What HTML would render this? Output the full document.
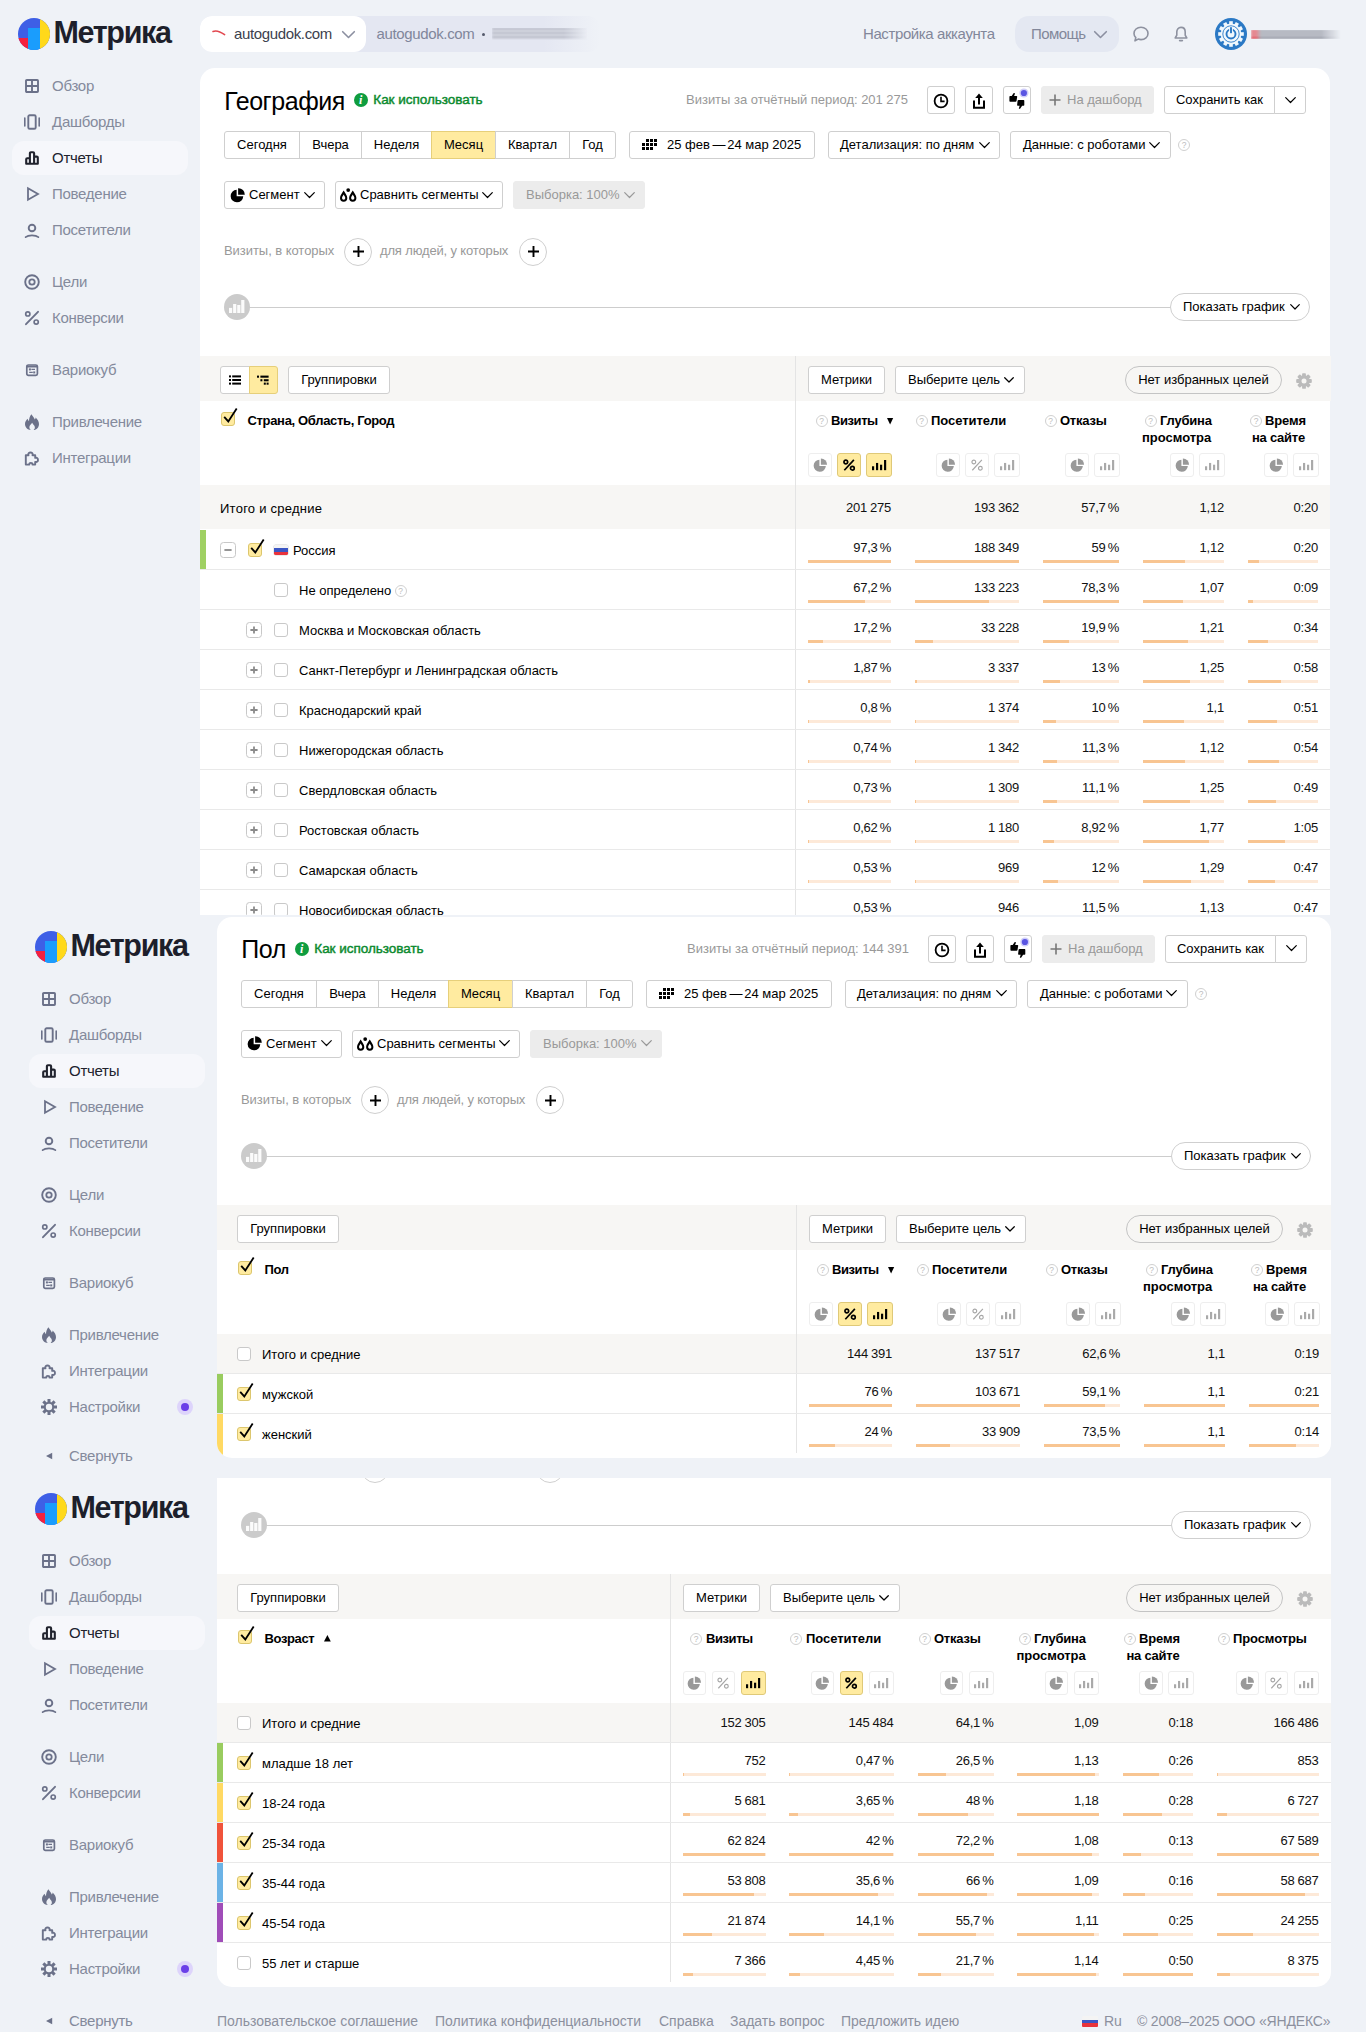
<!DOCTYPE html>
<html lang="ru"><head><meta charset="utf-8"><title>Метрика</title><style>
*{box-sizing:border-box}
html,body{margin:0;padding:0}
body{width:1366px;height:2032px;background:#eff2f7;font-family:"Liberation Sans",sans-serif;position:relative;overflow:hidden;color:#000;font-size:13px}
.a{position:absolute}
.t{position:absolute;white-space:nowrap;line-height:1}
.sec{position:absolute;left:0;width:1366px;overflow:hidden;background:#eff2f7}
.card{position:absolute;background:#fff;overflow:hidden}
.btn{position:absolute;height:28px;border:1px solid #cfcfcf;border-radius:3px;background:#fff;font-size:13px;line-height:26px;color:#000;white-space:nowrap;text-align:center}
.btn.y{background:#ffeba0;border-color:#e6cf7a}
.btn.dis{background:#ececec;border-color:#ececec;color:#999}
.pill{position:absolute;height:28px;border:1px solid #cfcfcf;border-radius:14px;background:#fff;font-size:13px;line-height:26px;white-space:nowrap;text-align:center}
.nav{position:absolute;font-size:15px;line-height:18px;color:#848a9c;white-space:nowrap;letter-spacing:-0.27px}
.nav.on{color:#20222d}
.navbg{position:absolute;background:#f6f7fb;border-radius:12px}
.band{position:absolute;background:#f7f6f4}
.hl{position:absolute;height:1px;background:#e9e9e9}
.vl{position:absolute;width:1px;background:#e4e4e4}
.num{position:absolute;white-space:nowrap;font-size:13px;line-height:15px;text-align:right;color:#111;letter-spacing:-0.2px}
.lab{position:absolute;white-space:nowrap;font-size:13px;line-height:15px;color:#000}
.hd{position:absolute;white-space:nowrap;font-size:13px;line-height:17px;font-weight:700;color:#000;letter-spacing:-0.15px}
.bar{position:absolute;height:3px;background:#fde9d8}
.bar i{position:absolute;left:0;top:0;height:3px;background:#f8c592;display:block}
.cb{position:absolute;width:14px;height:14px;border:1px solid #c9c9c9;border-radius:3px;background:#fff}
.cb.on{background:#ffeba0;border-color:#dcc66e}
.mb{position:absolute;width:24px;height:24px;border:1px solid #eeeeee;border-radius:3px;background:#fff}
.mb.on{background:#ffeba0;border-color:#dfc978}
.q{position:absolute;width:12px;height:12px;border:1px solid #d0d0d0;border-radius:50%;font-size:8.5px;line-height:10px;text-align:center;color:#bcbcbc}
.pm{position:absolute;width:16px;height:16px;border:1px solid #c8c8c8;border-radius:3.5px;background:#fff}
.ft{position:absolute;white-space:nowrap;font-size:14px;line-height:16px;color:#8c909e;letter-spacing:-0.02px}
svg{position:absolute;overflow:visible}
.sp{display:inline-block;width:2.8px}
.ps{display:inline-block;width:2px}
</style></head><body>
<div class="sec" style="top:0;height:915px">
<svg style="left:18px;top:18px" width="32" height="32" viewBox="0 0 32 32"><defs><clipPath id="lc34_34"><circle cx="16" cy="16" r="16"/></clipPath></defs><g clip-path="url(#lc34_34)"><rect width="32" height="32" fill="#3e5fe6"/><rect x="0" y="20" width="10" height="12" fill="#f5213f"/><rect x="10" y="10" width="12" height="22" fill="#1a9dfd"/><rect x="22" y="0" width="10" height="32" fill="#ffd91a"/></g></svg>
<div class="t" style="left:53.5px;top:17.08px;font-size:30.5px;color:#1d1f2b;font-weight:700;letter-spacing:-1.35px;">Метрика</div>
<div class="navbg" style="left:12px;top:141px;width:176px;height:34px"></div>
<svg style="left:24px;top:78px" width="16" height="16" viewBox="0 0 16 16" fill="none" stroke="#6b7189" stroke-width="1.9" stroke-linejoin="round" stroke-linecap="round"><rect x="2" y="2" width="12" height="12" rx="0.8"/><path d="M8 2V14M2 8H14" stroke-linecap="butt"/></svg>
<div class="nav" style="left:52px;top:77px">Обзор</div>
<svg style="left:24px;top:114px" width="16" height="16" viewBox="0 0 16 16" fill="none" stroke="#6b7189" stroke-width="1.9" stroke-linejoin="round" stroke-linecap="round"><rect x="4.3" y="1.2" width="7.4" height="13.6" rx="1.4"/><path d="M0.8 4V12M15.2 4V12" stroke-width="1.6"/></svg>
<div class="nav" style="left:52px;top:113px">Дашборды</div>
<svg style="left:24px;top:150px" width="16" height="16" viewBox="0 0 16 16" fill="none" stroke="#20222d" stroke-width="1.9" stroke-linejoin="round" stroke-linecap="round"><path d="M2.2 13.8V9.2Q2.2 8.2 3.2 8.2H5.9M5.9 13.8V3.2Q5.9 2.2 6.9 2.2H9.1Q10.1 2.2 10.1 3.2V13.8M10.1 6.6H12.8Q13.8 6.6 13.8 7.6V13.8M2.2 13.8H13.8" stroke-width="2.1"/></svg>
<div class="nav on" style="left:52px;top:149px">Отчеты</div>
<svg style="left:24px;top:186px" width="16" height="16" viewBox="0 0 16 16" fill="none" stroke="#6b7189" stroke-width="1.9" stroke-linejoin="round" stroke-linecap="round"><path d="M4 2.2L14 8L4 13.8Z" stroke-width="1.8" stroke-linejoin="miter"/></svg>
<div class="nav" style="left:52px;top:185px">Поведение</div>
<svg style="left:24px;top:222px" width="16" height="16" viewBox="0 0 16 16" fill="none" stroke="#6b7189" stroke-width="1.9" stroke-linejoin="round" stroke-linecap="round"><circle cx="8" cy="6" r="3.3"/><path d="M1.6 15.2C4.4 12.7 11.6 12.7 14.4 15.2" stroke-width="1.7"/></svg>
<div class="nav" style="left:52px;top:221px">Посетители</div>
<svg style="left:24px;top:274px" width="16" height="16" viewBox="0 0 16 16" fill="none" stroke="#6b7189" stroke-width="1.9" stroke-linejoin="round" stroke-linecap="round"><circle cx="8" cy="8" r="6.8"/><circle cx="8" cy="8" r="2.7" stroke-width="1.8"/></svg>
<div class="nav" style="left:52px;top:273px">Цели</div>
<svg style="left:24px;top:310px" width="16" height="16" viewBox="0 0 16 16" fill="none" stroke="#6b7189" stroke-width="1.9" stroke-linejoin="round" stroke-linecap="round"><path d="M14 1.8L2 14.2"/><circle cx="3.8" cy="3.9" r="2.1" stroke-width="1.7"/><circle cx="12.2" cy="12.1" r="2.1" stroke-width="1.7"/></svg>
<div class="nav" style="left:52px;top:309px">Конверсии</div>
<svg style="left:24px;top:362px" width="16" height="16" viewBox="0 0 16 16" fill="none" stroke="#6b7189" stroke-width="1.9" stroke-linejoin="round" stroke-linecap="round"><rect x="2.8" y="3" width="10.6" height="10.4" rx="1.6" stroke-width="1.7"/><path d="M2.8 4.6H13.4" stroke-width="1.8" stroke-linecap="butt"/><path d="M7.4 7.4H11M5.2 10.4H8.8" stroke-width="1.1" stroke-linecap="butt"/><rect x="4.9" y="6.4" width="2" height="2" fill="#6b7189" stroke="none"/><rect x="9.2" y="9.4" width="2" height="2" fill="#6b7189" stroke="none"/></svg>
<div class="nav" style="left:52px;top:361px">Вариокуб</div>
<svg style="left:24px;top:414px" width="16" height="16" viewBox="0 0 16 16" fill="none" stroke="#6b7189" stroke-width="1.9" stroke-linejoin="round" stroke-linecap="round"><path d="M7.4 0.2C8.8 2.4 10.2 3.4 10.8 5.6C11.3 4.9 11.6 4.2 11.6 3.4C13.6 5.2 15 7.4 15 10C15 13.4 12.6 16 9.6 16C10.6 15.2 11 14.2 10.8 13C10.6 11.4 9 10.6 8.2 8.8C7.2 10.2 5.6 11.2 5.4 13C5.3 14.2 5.8 15.2 6.8 16C3.6 15.8 1 13.4 1 10C1 7.6 2.4 6 3.6 4.8C3.8 5.8 4.2 6.6 5 7.2C5 4.6 5.8 2 7.4 0.2Z" fill="#6b7189" stroke="none"/></svg>
<div class="nav" style="left:52px;top:413px">Привлечение</div>
<svg style="left:24px;top:450px" width="16" height="16" viewBox="0 0 16 16" fill="none" stroke="#6b7189" stroke-width="1.9" stroke-linejoin="round" stroke-linecap="round"><path d="M1.8 5.2H4.5C3.2 1.6 9.8 1.6 8.5 5.2H11.2V7.9C14.9 6.6 14.9 13.2 11.2 11.9V14.6H8.4C9 12.3 4.8 12.3 5.4 14.6H1.8Z" stroke-width="1.9"/></svg>
<div class="nav" style="left:52px;top:449px">Интеграции</div>
<div class="a" style="left:200px;top:16px;width:400px;height:36px;border-radius:12px;background:linear-gradient(90deg,#e4e7f2 0,#e4e7f2 86%,rgba(228,231,242,0) 100%)"></div>
<div class="a" style="left:200px;top:16px;width:166px;height:36px;border-radius:12px;background:#fff"></div>
<svg style="left:212px;top:29px" width="14" height="8" viewBox="0 0 14 8" fill="none" stroke="#e2474f" stroke-width="1.6" stroke-linecap="round"><path d="M1 2.4C4.6 1 8.4 2.6 12.6 5.6"/></svg>
<div class="t" style="left:234px;top:26px;font-size:15px;color:#3c3f4e;letter-spacing:-0.36px;">autogudok.com</div>
<svg style="left:342px;top:31px" width="13" height="7.5" viewBox="0 0 13 7.5" fill="none" stroke="#8b8fa0" stroke-width="1.6" stroke-linecap="round" stroke-linejoin="round"><path d="M0.7 0.7L6.5 6.5L12.3 0.7"/></svg>
<div class="t" style="left:376.5px;top:26px;font-size:15px;color:#80869b;letter-spacing:-0.36px;">autogudok.com</div>
<div class="a" style="left:482px;top:33px;width:3px;height:3px;border-radius:50%;background:#555a6c"></div>
<div class="a" style="left:492px;top:28px;width:96px;height:12px;filter:blur(1.2px);background:repeating-linear-gradient(180deg,#b3b6c2 0,#b3b6c2 2.2px,#dfe2ec 2.2px,#dfe2ec 4px);-webkit-mask-image:linear-gradient(90deg,#000 0,#000 75%,transparent 100%);mask-image:linear-gradient(90deg,#000 0,#000 75%,transparent 100%)"></div>
<div class="t" style="left:863px;top:26px;font-size:15px;color:#82879a;letter-spacing:-0.4px;">Настройка аккаунта</div>
<div class="a" style="left:1015px;top:16px;width:104px;height:36px;border-radius:14px;background:#e4e8f2"></div>
<div class="t" style="left:1031px;top:26px;font-size:15px;color:#82879a;letter-spacing:-0.55px;">Помощь</div>
<svg style="left:1094px;top:31px" width="13" height="7.5" viewBox="0 0 13 7.5" fill="none" stroke="#8b8fa0" stroke-width="1.6" stroke-linecap="round" stroke-linejoin="round"><path d="M0.7 0.7L6.5 6.5L12.3 0.7"/></svg>
<svg style="left:1132px;top:25px" width="18" height="18" viewBox="0 0 18 18" fill="none" stroke="#8e92a0" stroke-width="1.6" stroke-linejoin="round"><path d="M9 2.2C13 2.2 16 4.9 16 8.4C16 11.9 13 14.6 9 14.6C8 14.6 7 14.4 6.2 14.1L3 15.8L3.8 12.6C2.7 11.5 2 10 2 8.4C2 4.9 5 2.2 9 2.2Z"/></svg>
<svg style="left:1173px;top:25px" width="16" height="18" viewBox="0 0 16 18" fill="none" stroke="#8e92a0" stroke-width="1.6" stroke-linejoin="round" stroke-linecap="round"><path d="M8 2.4C5.4 2.4 3.8 4.4 3.8 7V10.2L2.2 13H13.8L12.2 10.2V7C12.2 4.4 10.6 2.4 8 2.4Z"/><path d="M6.6 15.6H9.4"/></svg>
<svg style="left:1214.7px;top:17.6px" width="32" height="32" viewBox="-16 -16 32 32"><circle r="16" fill="#2b79c5"/><rect x="-1.8" y="-12.8" width="3.6" height="4" fill="#f1f8fd" transform="rotate(0)"/><rect x="-1.8" y="-12.8" width="3.6" height="4" fill="#f1f8fd" transform="rotate(30)"/><rect x="-1.8" y="-12.8" width="3.6" height="4" fill="#f1f8fd" transform="rotate(60)"/><rect x="-1.8" y="-12.8" width="3.6" height="4" fill="#f1f8fd" transform="rotate(90)"/><rect x="-1.8" y="-12.8" width="3.6" height="4" fill="#f1f8fd" transform="rotate(120)"/><rect x="-1.8" y="-12.8" width="3.6" height="4" fill="#f1f8fd" transform="rotate(150)"/><rect x="-1.8" y="-12.8" width="3.6" height="4" fill="#f1f8fd" transform="rotate(180)"/><rect x="-1.8" y="-12.8" width="3.6" height="4" fill="#f1f8fd" transform="rotate(210)"/><rect x="-1.8" y="-12.8" width="3.6" height="4" fill="#f1f8fd" transform="rotate(240)"/><rect x="-1.8" y="-12.8" width="3.6" height="4" fill="#f1f8fd" transform="rotate(270)"/><rect x="-1.8" y="-12.8" width="3.6" height="4" fill="#f1f8fd" transform="rotate(300)"/><rect x="-1.8" y="-12.8" width="3.6" height="4" fill="#f1f8fd" transform="rotate(330)"/><circle r="10.4" fill="#f1f8fd"/><circle r="8.2" fill="none" stroke="#2b79c5" stroke-width="0.9"/><circle r="4.5" fill="none" stroke="#2b79c5" stroke-width="1.9"/><rect x="-1.9" y="-7.2" width="3.8" height="5" fill="#f1f8fd"/><rect x="-0.95" y="-6.8" width="1.9" height="6" fill="#2b79c5"/></svg>
<div class="a" style="left:1251px;top:29.6px;width:90px;height:9.4px;filter:blur(0.9px);-webkit-mask-image:linear-gradient(90deg,#000 0,#000 78%,transparent 100%);mask-image:linear-gradient(90deg,#000 0,#000 78%,transparent 100%)"><div class="a" style="left:0;top:0.4px;width:90px;height:2.2px;background:linear-gradient(90deg,#e0545f 0,#e0545f 6%,#9b9ea9 11%,#9b9ea9 100%)"></div><div class="a" style="left:0;top:3.6px;width:90px;height:2.2px;background:linear-gradient(90deg,#e0545f 0,#e0545f 6%,#9b9ea9 11%,#9b9ea9 100%)"></div><div class="a" style="left:0;top:6.8px;width:90px;height:2.2px;background:linear-gradient(90deg,#e0545f 0,#e0545f 6%,#9b9ea9 11%,#9b9ea9 100%)"></div></div>
<div class="card" style="left:200px;top:68px;width:1130px;height:860px;border-radius:15px 15px 0 0"></div>
<div class="t" style="left:224.3px;top:88.84px;font-size:25px;color:#000;letter-spacing:-0.45px;">География</div>
<div class="a" style="left:354px;top:93px;width:14px;height:14px;border-radius:50%;background:#0f9d3f"></div>
<div class="t" style="left:359px;top:94px;font-family:'Liberation Serif',serif;font-weight:700;font-style:italic;font-size:12px;color:#fff">i</div>
<div class="t" style="left:373.3px;top:93.2px;font-size:13.5px;color:#0a8a2e;letter-spacing:-0.03px;-webkit-text-stroke:0.45px #0a8a2e;">Как использовать</div>
<div class="t" style="left:608px;width:300px;text-align:right;top:93px;font-size:13px;color:#999;letter-spacing:-0.02px">Визиты за отчётный период: 201 275</div>
<div class="btn" style="left:927px;top:86px;width:28px"></div>
<div class="btn" style="left:965px;top:86px;width:28px"></div>
<div class="btn" style="left:1003px;top:86px;width:28px"></div>
<svg style="left:933px;top:93px" width="16" height="16" viewBox="0 0 16 16" fill="none" stroke="#000" stroke-width="1.8"><circle cx="8" cy="8" r="6.4"/><path d="M8 3.8V8.4H11.6" stroke-width="1.6"/></svg>
<svg style="left:971px;top:91px" width="16" height="20" viewBox="0 0 16 20" fill="none" stroke="#000" stroke-width="2"><path d="M3 9.6V16.8H13V9.6"/><path d="M8 13.4V4" /><path d="M4.2 7L8 2.4L11.8 7Z" fill="#000" stroke="none"/></svg>
<svg style="left:1003px;top:86px" width="28" height="28" viewBox="0 0 28 28"><path d="M6.4 10.7Q6.4 10 7.1 10H8.7L10.5 7.3Q11.3 6.7 12 7.4L11.1 10H13.5Q14.3 10 14.2 10.8L13.5 15.1Q13.3 15.8 12.6 15.8H7.1Q6.4 15.8 6.4 15.1Z" fill="#000"/><path d="M21.3 19Q21.3 19.7 20.6 19.7H19.1L17.3 22.5Q16.5 23.1 15.8 22.4L16.7 19.7H14.8Q14 19.7 14.1 18.9L14.6 14.8Q14.8 14.1 15.5 14.1H20.6Q21.3 14.1 21.3 14.8Z" fill="#000"/><circle cx="20.9" cy="7" r="4.6" fill="#cfcdf9"/><circle cx="20.9" cy="7" r="3.1" fill="#5a55e2"/></svg>
<div class="btn dis" style="left:1041px;top:86px;width:113px;text-align:left;padding-left:25px">На дашборд</div>
<svg style="left:1049px;top:94px" width="12" height="12" viewBox="0 0 12 12" stroke="#777" stroke-width="1.6"><path d="M6 0.5V11.5M0.5 6H11.5"/></svg>
<div class="btn" style="left:1164px;top:86px;width:111px;border-radius:3px 0 0 3px">Сохранить как</div>
<div class="btn" style="left:1274px;top:86px;width:32px;border-radius:0 3px 3px 0"></div>
<svg style="left:1285px;top:96.9px" width="11" height="6.5" viewBox="0 0 11 6.5" fill="none" stroke="#000" stroke-width="1.2" stroke-linecap="round" stroke-linejoin="round"><path d="M0.7 0.7L5.5 5.5L10.3 0.7"/></svg>
<div class="btn" style="left:224px;top:131px;width:76px;border-radius:3px 0 0 3px">Сегодня</div>
<div class="btn" style="left:299px;top:131px;width:63px;border-radius:0">Вчера</div>
<div class="btn" style="left:361px;top:131px;width:71px;border-radius:0">Неделя</div>
<div class="btn y" style="left:431px;top:131px;width:65px;border-radius:0">Месяц</div>
<div class="btn" style="left:495px;top:131px;width:75px;border-radius:0">Квартал</div>
<div class="btn" style="left:569px;top:131px;width:47px;border-radius:0 3px 3px 0">Год</div>
<div class="btn" style="left:629px;top:131px;width:186px;text-align:left;padding-left:37px">25 фев<span style="letter-spacing:-1px"> </span>—<span style="letter-spacing:-2px"> </span>24 мар 2025</div>
<svg style="left:642px;top:139px" width="15" height="11" viewBox="0 0 15 11" fill="#000"><rect x="4" y="0" width="3" height="3"/><rect x="8" y="0" width="3" height="3"/><rect x="12" y="0" width="3" height="3"/><rect x="0" y="4" width="3" height="3"/><rect x="4" y="4" width="3" height="3"/><rect x="8" y="4" width="3" height="3"/><rect x="12" y="4" width="3" height="3"/><rect x="0" y="8" width="3" height="3"/><rect x="4" y="8" width="3" height="3"/><rect x="8" y="8" width="3" height="3"/></svg>
<div class="btn" style="left:828px;top:131px;width:172px;text-align:left;padding-left:11px">Детализация: по дням</div>
<svg style="left:979px;top:141.9px" width="11" height="6.5" viewBox="0 0 11 6.5" fill="none" stroke="#000" stroke-width="1.2" stroke-linecap="round" stroke-linejoin="round"><path d="M0.7 0.7L5.5 5.5L10.3 0.7"/></svg>
<div class="btn" style="left:1010px;top:131px;width:161px;text-align:left;padding-left:12px">Данные: с роботами</div>
<svg style="left:1149px;top:141.9px" width="11" height="6.5" viewBox="0 0 11 6.5" fill="none" stroke="#000" stroke-width="1.2" stroke-linecap="round" stroke-linejoin="round"><path d="M0.7 0.7L5.5 5.5L10.3 0.7"/></svg>
<div class="q" style="left:1178px;top:139px">?</div>
<div class="btn" style="left:224px;top:181px;width:101px;text-align:left;padding-left:24px">Сегмент</div>
<svg style="left:230px;top:187.5px" width="15" height="15" viewBox="0 0 14 14"><path d="M6.2 1.6A5.9 5.9 0 1 0 12.4 7.8H6.2Z" fill="#000"/><path d="M7.6 0.2A5.9 5.9 0 0 1 13.8 6.4H7.6Z" fill="#000"/></svg>
<svg style="left:304px;top:191.9px" width="11" height="6.5" viewBox="0 0 11 6.5" fill="none" stroke="#000" stroke-width="1.2" stroke-linecap="round" stroke-linejoin="round"><path d="M0.7 0.7L5.5 5.5L10.3 0.7"/></svg>
<div class="btn" style="left:335px;top:181px;width:168px;text-align:left;padding-left:24px">Сравнить сегменты</div>
<svg style="left:340.2px;top:188.2px" width="17" height="14" viewBox="0 0 17 14"><path d="M3.65 2.6C5 5.2 7.3 7.2 7.3 10A3.65 3.65 0 0 1 0 10C0 7.2 2.3 5.2 3.65 2.6Z" fill="#000"/><path d="M3.65 6.6C4.3 7.9 5.3 8.9 5.3 10.1A1.65 1.65 0 0 1 2 10.1C2 8.9 3 7.9 3.65 6.6Z" fill="#fff"/><g transform="translate(9.1 0)"><path d="M3.65 2.6C5 5.2 7.3 7.2 7.3 10A3.65 3.65 0 0 1 0 10C0 7.2 2.3 5.2 3.65 2.6Z" fill="#000"/><path d="M3.65 6.6C4.3 7.9 5.3 8.9 5.3 10.1A1.65 1.65 0 0 1 2 10.1C2 8.9 3 7.9 3.65 6.6Z" fill="#fff"/></g><circle cx="8.2" cy="2.1" r="1.9" fill="#000"/></svg>
<svg style="left:482px;top:191.9px" width="11" height="6.5" viewBox="0 0 11 6.5" fill="none" stroke="#000" stroke-width="1.2" stroke-linecap="round" stroke-linejoin="round"><path d="M0.7 0.7L5.5 5.5L10.3 0.7"/></svg>
<div class="btn dis" style="left:513px;top:181px;width:132px;text-align:left;padding-left:12px">Выборка: 100%</div>
<svg style="left:624px;top:191.9px" width="11" height="6.5" viewBox="0 0 11 6.5" fill="none" stroke="#999" stroke-width="1.2" stroke-linecap="round" stroke-linejoin="round"><path d="M0.7 0.7L5.5 5.5L10.3 0.7"/></svg>
<div class="t" style="left:224px;top:244px;font-size:13px;color:#999;letter-spacing:-0.05px;">Визиты, в которых</div>
<div class="a" style="left:344px;top:237.5px;width:28px;height:28px;border-radius:50%;border:1px solid #cfcfcf;background:#fff"></div>
<svg style="left:352.5px;top:246.0px" width="11" height="11" viewBox="0 0 11 11" stroke="#000" stroke-width="1.9"><path d="M5.5 0V11M0 5.5H11"/></svg>
<div class="t" style="left:380px;top:244px;font-size:13px;color:#999;letter-spacing:-0.15px;">для людей, у которых</div>
<div class="a" style="left:519px;top:237.5px;width:28px;height:28px;border-radius:50%;border:1px solid #cfcfcf;background:#fff"></div>
<svg style="left:527.5px;top:246.0px" width="11" height="11" viewBox="0 0 11 11" stroke="#000" stroke-width="1.9"><path d="M5.5 0V11M0 5.5H11"/></svg>
<div class="a" style="left:249px;top:307px;width:922px;height:1px;background:#cdcdcd"></div>
<div class="a" style="left:224px;top:294px;width:26px;height:26px;border-radius:50%;background:#cbcbcb"></div>
<svg style="left:228.8px;top:300px" width="16" height="13" viewBox="0 0 16 13" fill="#fbfbfb"><rect x="0" y="7.9" width="3.2" height="5.1"/><rect x="4.1" y="4" width="3.2" height="9"/><rect x="8.2" y="5" width="3.2" height="8"/><rect x="12.2" y="0" width="3.2" height="13"/></svg>
<div class="pill" style="left:1170px;top:293px;width:140px;text-align:left;padding-left:12px">Показать график</div>
<svg style="left:1290px;top:304px" width="10" height="6.0" viewBox="0 0 10 6.0" fill="none" stroke="#000" stroke-width="1.2" stroke-linecap="round" stroke-linejoin="round"><path d="M0.7 0.7L5.0 5.0L9.3 0.7"/></svg>
<div class="band" style="left:200px;top:356px;width:1131px;height:45px"></div>
<div class="btn" style="left:220px;top:366px;width:30px;border-radius:3px 0 0 3px"></div>
<div class="btn y" style="left:249px;top:366px;width:28.5px;border-radius:0 3px 3px 0"></div>
<svg style="left:229px;top:375px" width="12" height="10" viewBox="0 0 12 10" fill="#000"><rect x="0" y="0.4" width="2" height="2"/><rect x="3.2" y="0.4" width="8.8" height="2"/><rect x="0" y="4" width="2" height="2"/><rect x="3.2" y="4" width="8.8" height="2"/><rect x="0" y="7.6" width="2" height="2"/><rect x="3.2" y="7.6" width="8.8" height="2"/></svg>
<svg style="left:257px;top:375px" width="12" height="10" viewBox="0 0 12 10" fill="#000"><rect x="0" y="0.6" width="2" height="2.1"/><rect x="3.4" y="0.6" width="8.2" height="2.1"/><rect x="3.4" y="4.2" width="2" height="2.1"/><rect x="6.8" y="4.2" width="4.8" height="2.1"/><rect x="6.8" y="7.6" width="2" height="2.1"/><rect x="9.6" y="7.6" width="2" height="2.1"/></svg>
<div class="btn" style="left:288px;top:366px;width:102px">Группировки</div>
<div class="btn" style="left:808px;top:366px;width:77px">Метрики</div>
<div class="btn" style="left:895px;top:366px;width:130px;text-align:left;padding-left:12px">Выберите цель</div>
<svg style="left:1004px;top:377px" width="10" height="6.0" viewBox="0 0 10 6.0" fill="none" stroke="#000" stroke-width="1.25" stroke-linecap="round" stroke-linejoin="round"><path d="M0.7 0.7L5.0 5.0L9.3 0.7"/></svg>
<div class="pill" style="left:1125px;top:366px;width:157px;background:transparent;border-color:#c4c4c4">Нет избранных целей</div>
<svg style="left:1296px;top:372.5px" width="16" height="16" viewBox="-8 -8 16 16" fill="#bbbbbb"><circle r="5.7"/><rect x="-1.9" y="-7.8" width="3.8" height="4.4" rx="0.9" transform="rotate(0)"/><rect x="-1.9" y="-7.8" width="3.8" height="4.4" rx="0.9" transform="rotate(45)"/><rect x="-1.9" y="-7.8" width="3.8" height="4.4" rx="0.9" transform="rotate(90)"/><rect x="-1.9" y="-7.8" width="3.8" height="4.4" rx="0.9" transform="rotate(135)"/><rect x="-1.9" y="-7.8" width="3.8" height="4.4" rx="0.9" transform="rotate(180)"/><rect x="-1.9" y="-7.8" width="3.8" height="4.4" rx="0.9" transform="rotate(225)"/><rect x="-1.9" y="-7.8" width="3.8" height="4.4" rx="0.9" transform="rotate(270)"/><rect x="-1.9" y="-7.8" width="3.8" height="4.4" rx="0.9" transform="rotate(315)"/><circle r="2.5" fill="#f7f6f4"/></svg>
<div class="cb on" style="left:221px;top:412px"></div>
<svg style="left:221px;top:407px" width="18" height="19" viewBox="0 0 18 19" fill="none" stroke="#000" stroke-width="1.8" stroke-linecap="butt" stroke-linejoin="miter"><path d="M3.2 9.8L7.3 14.4L15.7 1.4"/></svg>
<div class="hd" style="left:247.5px;top:411.5px;letter-spacing:-0.33px">Страна, Область, Город</div>
<div class="q" style="left:815.5px;top:415px">?</div>
<div class="hd" style="left:831px;top:411.5px;letter-spacing:-0.42px">Визиты</div>
<svg style="left:887.2px;top:417.6px" width="6.2" height="6.4" viewBox="0 0 6.2 6.4"><path d="M0 0H6.2L3.1 6.4Z" fill="#000"/></svg>
<div class="mb" style="left:808.0px;top:453px;width:23.5px;height:23.5px"></div>
<svg style="left:812.7px;top:458px" width="14.5" height="14.5" viewBox="0 0 14 14"><path d="M6.2 1.6A5.9 5.9 0 1 0 12.4 7.8H6.2Z" fill="#999"/><path d="M7.6 0.4A5.9 5.9 0 0 1 13.6 6.4H7.6Z" fill="#999"/></svg>
<div class="mb on" style="left:837.0px;top:453px;width:23.5px;height:23.5px"></div>
<svg style="left:842.8000000000001px;top:458.7px" width="12.2" height="12.2" viewBox="0 0 13 13" fill="none" stroke="#000" stroke-width="1.8"><path d="M11.6 1L1.4 12" stroke-linecap="butt"/><circle cx="3" cy="3.2" r="2"/><circle cx="10" cy="9.8" r="2"/></svg>
<div class="mb on" style="left:866.0px;top:453px;width:25.5px;height:23.5px"></div>
<svg style="left:871.6px;top:460px" width="14.2" height="10.2" viewBox="0 0 14.5 10.4" fill="#000"><rect x="0" y="6.4" width="2.2" height="4"/><rect x="4.1" y="3" width="2.2" height="7.4"/><rect x="8.2" y="4.8" width="2.2" height="5.6"/><rect x="12.3" y="0" width="2.2" height="10.4"/></svg>
<div class="q" style="left:915.5px;top:415px">?</div>
<div class="hd" style="left:931px;top:411.5px;letter-spacing:-0.05px">Посетители</div>
<div class="mb" style="left:936.0px;top:453px;width:23.5px;height:23.5px"></div>
<svg style="left:940.7px;top:458px" width="14.5" height="14.5" viewBox="0 0 14 14"><path d="M6.2 1.6A5.9 5.9 0 1 0 12.4 7.8H6.2Z" fill="#999"/><path d="M7.6 0.4A5.9 5.9 0 0 1 13.6 6.4H7.6Z" fill="#999"/></svg>
<div class="mb" style="left:965.0px;top:453px;width:23.5px;height:23.5px"></div>
<svg style="left:970.8000000000001px;top:458.7px" width="12.2" height="12.2" viewBox="0 0 13 13" fill="none" stroke="#a6a6a6" stroke-width="1.2"><path d="M11.6 1L1.4 12" stroke-linecap="butt"/><circle cx="3" cy="3.2" r="2"/><circle cx="10" cy="9.8" r="2"/></svg>
<div class="mb" style="left:994.0px;top:453px;width:25.5px;height:23.5px"></div>
<svg style="left:999.6px;top:460px" width="14.2" height="10.2" viewBox="0 0 14.5 10.4" fill="#a9a9a9"><rect x="0" y="6.4" width="2.2" height="4"/><rect x="4.1" y="3" width="2.2" height="7.4"/><rect x="8.2" y="4.8" width="2.2" height="5.6"/><rect x="12.3" y="0" width="2.2" height="10.4"/></svg>
<div class="q" style="left:1044.5px;top:415px">?</div>
<div class="hd" style="left:1060px;top:411.5px;letter-spacing:-0.24px">Отказы</div>
<div class="mb" style="left:1065.0px;top:453px;width:23.5px;height:23.5px"></div>
<svg style="left:1069.7px;top:458px" width="14.5" height="14.5" viewBox="0 0 14 14"><path d="M6.2 1.6A5.9 5.9 0 1 0 12.4 7.8H6.2Z" fill="#999"/><path d="M7.6 0.4A5.9 5.9 0 0 1 13.6 6.4H7.6Z" fill="#999"/></svg>
<div class="mb" style="left:1094.0px;top:453px;width:25.5px;height:23.5px"></div>
<svg style="left:1099.6px;top:460px" width="14.2" height="10.2" viewBox="0 0 14.5 10.4" fill="#a9a9a9"><rect x="0" y="6.4" width="2.2" height="4"/><rect x="4.1" y="3" width="2.2" height="7.4"/><rect x="8.2" y="4.8" width="2.2" height="5.6"/><rect x="12.3" y="0" width="2.2" height="10.4"/></svg>
<div class="q" style="left:1144.5px;top:415px">?</div>
<div class="hd" style="left:1160px;top:411.5px;letter-spacing:-0.21px">Глубина</div>
<div class="hd" style="left:1142px;top:428.5px;letter-spacing:-0.02px">просмотра</div>
<div class="mb" style="left:1170.0px;top:453px;width:23.5px;height:23.5px"></div>
<svg style="left:1174.7px;top:458px" width="14.5" height="14.5" viewBox="0 0 14 14"><path d="M6.2 1.6A5.9 5.9 0 1 0 12.4 7.8H6.2Z" fill="#999"/><path d="M7.6 0.4A5.9 5.9 0 0 1 13.6 6.4H7.6Z" fill="#999"/></svg>
<div class="mb" style="left:1199.0px;top:453px;width:25.5px;height:23.5px"></div>
<svg style="left:1204.6px;top:460px" width="14.2" height="10.2" viewBox="0 0 14.5 10.4" fill="#a9a9a9"><rect x="0" y="6.4" width="2.2" height="4"/><rect x="4.1" y="3" width="2.2" height="7.4"/><rect x="8.2" y="4.8" width="2.2" height="5.6"/><rect x="12.3" y="0" width="2.2" height="10.4"/></svg>
<div class="q" style="left:1250px;top:415px">?</div>
<div class="hd" style="left:1265px;top:411.5px;letter-spacing:-0.14px">Время</div>
<div class="hd" style="left:1252px;top:428.5px;letter-spacing:-0.25px">на сайте</div>
<div class="mb" style="left:1264.0px;top:453px;width:23.5px;height:23.5px"></div>
<svg style="left:1268.7px;top:458px" width="14.5" height="14.5" viewBox="0 0 14 14"><path d="M6.2 1.6A5.9 5.9 0 1 0 12.4 7.8H6.2Z" fill="#999"/><path d="M7.6 0.4A5.9 5.9 0 0 1 13.6 6.4H7.6Z" fill="#999"/></svg>
<div class="mb" style="left:1293.0px;top:453px;width:25.5px;height:23.5px"></div>
<svg style="left:1298.6px;top:460px" width="14.2" height="10.2" viewBox="0 0 14.5 10.4" fill="#a9a9a9"><rect x="0" y="6.4" width="2.2" height="4"/><rect x="4.1" y="3" width="2.2" height="7.4"/><rect x="8.2" y="4.8" width="2.2" height="5.6"/><rect x="12.3" y="0" width="2.2" height="10.4"/></svg>
<div class="band" style="left:200px;top:485px;width:1130px;height:44px"></div>
<div class="lab" style="left:220px;top:501px;letter-spacing:0.25px">Итого и средние</div>
<div class="vl" style="left:795px;top:356px;height:559px"></div>
<div class="num" style="left:771px;width:120px;top:499.5px">201<i class="sp"></i>275</div>
<div class="num" style="left:899px;width:120px;top:499.5px">193<i class="sp"></i>362</div>
<div class="num" style="left:999px;width:120px;top:499.5px">57,7<i class="ps"></i>%</div>
<div class="num" style="left:1104px;width:120px;top:499.5px">1,12</div>
<div class="num" style="left:1198px;width:120px;top:499.5px">0:20</div>
<div class="hl" style="left:200px;top:569px;width:1130px"></div>
<div class="a" style="left:200px;top:529.5px;width:6px;height:39.5px;background:#9fd063"></div>
<div class="pm" style="left:220px;top:542.2px"></div>
<svg style="left:220px;top:542.2px" width="16" height="16" viewBox="0 0 16 16" fill="none" stroke="#8a8a8a" stroke-width="1.8"><path d="M4.4 8H11.6"/></svg>
<div class="cb on" style="left:248px;top:542.5px"></div>
<svg style="left:248px;top:537.5px" width="18" height="19" viewBox="0 0 18 19" fill="none" stroke="#000" stroke-width="1.8" stroke-linecap="butt" stroke-linejoin="miter"><path d="M3.2 9.8L7.3 14.4L15.7 1.4"/></svg>
<div class="a" style="left:274px;top:544.5px;width:14px;height:10.5px;border-radius:1.5px;overflow:hidden;background:linear-gradient(180deg,#f4f4f4 0,#f4f4f4 33%,#3b56c4 33%,#3b56c4 67%,#e8333c 67%);box-shadow:0 0 0 0.5px #d8d8d8"></div>
<div class="lab" style="left:293px;top:543px">Россия</div>
<div class="num" style="left:771px;width:120px;top:539.5px">97,3<i class="ps"></i>%</div>
<div class="bar" style="left:808px;top:560px;width:83px"><i style="width:83px"></i></div>
<div class="num" style="left:899px;width:120px;top:539.5px">188<i class="sp"></i>349</div>
<div class="bar" style="left:915px;top:560px;width:104px"><i style="width:104px"></i></div>
<div class="num" style="left:999px;width:120px;top:539.5px">59<i class="ps"></i>%</div>
<div class="bar" style="left:1043px;top:560px;width:76px"><i style="width:76px"></i></div>
<div class="num" style="left:1104px;width:120px;top:539.5px">1,12</div>
<div class="bar" style="left:1143px;top:560px;width:81px"><i style="width:42px"></i></div>
<div class="num" style="left:1198px;width:120px;top:539.5px">0:20</div>
<div class="bar" style="left:1248px;top:560px;width:70px"><i style="width:11px"></i></div>
<div class="hl" style="left:200px;top:609px;width:1130px"></div>
<div class="cb" style="left:274px;top:583px"></div>
<div class="lab" style="left:299px;top:582.5px">Не определено</div>
<div class="q" style="left:394.5px;top:584.5px">?</div>
<div class="num" style="left:771px;width:120px;top:579.5px">67,2<i class="ps"></i>%</div>
<div class="bar" style="left:808px;top:600px;width:83px"><i style="width:57px"></i></div>
<div class="num" style="left:899px;width:120px;top:579.5px">133<i class="sp"></i>223</div>
<div class="bar" style="left:915px;top:600px;width:104px"><i style="width:74px"></i></div>
<div class="num" style="left:999px;width:120px;top:579.5px">78,3<i class="ps"></i>%</div>
<div class="bar" style="left:1043px;top:600px;width:76px"><i style="width:76px"></i></div>
<div class="num" style="left:1104px;width:120px;top:579.5px">1,07</div>
<div class="bar" style="left:1143px;top:600px;width:81px"><i style="width:40px"></i></div>
<div class="num" style="left:1198px;width:120px;top:579.5px">0:09</div>
<div class="bar" style="left:1248px;top:600px;width:70px"><i style="width:5px"></i></div>
<div class="hl" style="left:200px;top:649px;width:1130px"></div>
<div class="pm" style="left:245.7px;top:622.2px"></div>
<svg style="left:245.7px;top:622.2px" width="16" height="16" viewBox="0 0 16 16" fill="none" stroke="#8a8a8a" stroke-width="1.8"><path d="M4.4 8H11.6M8 4.4V11.6"/></svg>
<div class="cb" style="left:274px;top:623px"></div>
<div class="lab" style="left:299px;top:622.5px">Москва и Московская область</div>
<div class="num" style="left:771px;width:120px;top:619.5px">17,2<i class="ps"></i>%</div>
<div class="bar" style="left:808px;top:640px;width:83px"><i style="width:15px"></i></div>
<div class="num" style="left:899px;width:120px;top:619.5px">33<i class="sp"></i>228</div>
<div class="bar" style="left:915px;top:640px;width:104px"><i style="width:18px"></i></div>
<div class="num" style="left:999px;width:120px;top:619.5px">19,9<i class="ps"></i>%</div>
<div class="bar" style="left:1043px;top:640px;width:76px"><i style="width:26px"></i></div>
<div class="num" style="left:1104px;width:120px;top:619.5px">1,21</div>
<div class="bar" style="left:1143px;top:640px;width:81px"><i style="width:45px"></i></div>
<div class="num" style="left:1198px;width:120px;top:619.5px">0:34</div>
<div class="bar" style="left:1248px;top:640px;width:70px"><i style="width:20px"></i></div>
<div class="hl" style="left:200px;top:689px;width:1130px"></div>
<div class="pm" style="left:245.7px;top:662.2px"></div>
<svg style="left:245.7px;top:662.2px" width="16" height="16" viewBox="0 0 16 16" fill="none" stroke="#8a8a8a" stroke-width="1.8"><path d="M4.4 8H11.6M8 4.4V11.6"/></svg>
<div class="cb" style="left:274px;top:663px"></div>
<div class="lab" style="left:299px;top:662.5px">Санкт-Петербург и Ленинградская область</div>
<div class="num" style="left:771px;width:120px;top:659.5px">1,87<i class="ps"></i>%</div>
<div class="bar" style="left:808px;top:680px;width:83px"><i style="width:2px"></i></div>
<div class="num" style="left:899px;width:120px;top:659.5px">3<i class="sp"></i>337</div>
<div class="bar" style="left:915px;top:680px;width:104px"><i style="width:2px"></i></div>
<div class="num" style="left:999px;width:120px;top:659.5px">13<i class="ps"></i>%</div>
<div class="bar" style="left:1043px;top:680px;width:76px"><i style="width:17px"></i></div>
<div class="num" style="left:1104px;width:120px;top:659.5px">1,25</div>
<div class="bar" style="left:1143px;top:680px;width:81px"><i style="width:47px"></i></div>
<div class="num" style="left:1198px;width:120px;top:659.5px">0:58</div>
<div class="bar" style="left:1248px;top:680px;width:70px"><i style="width:33px"></i></div>
<div class="hl" style="left:200px;top:729px;width:1130px"></div>
<div class="pm" style="left:245.7px;top:702.2px"></div>
<svg style="left:245.7px;top:702.2px" width="16" height="16" viewBox="0 0 16 16" fill="none" stroke="#8a8a8a" stroke-width="1.8"><path d="M4.4 8H11.6M8 4.4V11.6"/></svg>
<div class="cb" style="left:274px;top:703px"></div>
<div class="lab" style="left:299px;top:702.5px">Краснодарский край</div>
<div class="num" style="left:771px;width:120px;top:699.5px">0,8<i class="ps"></i>%</div>
<div class="bar" style="left:808px;top:720px;width:83px"><i style="width:1px"></i></div>
<div class="num" style="left:899px;width:120px;top:699.5px">1<i class="sp"></i>374</div>
<div class="bar" style="left:915px;top:720px;width:104px"><i style="width:1px"></i></div>
<div class="num" style="left:999px;width:120px;top:699.5px">10<i class="ps"></i>%</div>
<div class="bar" style="left:1043px;top:720px;width:76px"><i style="width:13px"></i></div>
<div class="num" style="left:1104px;width:120px;top:699.5px">1,1</div>
<div class="bar" style="left:1143px;top:720px;width:81px"><i style="width:41px"></i></div>
<div class="num" style="left:1198px;width:120px;top:699.5px">0:51</div>
<div class="bar" style="left:1248px;top:720px;width:70px"><i style="width:29px"></i></div>
<div class="hl" style="left:200px;top:769px;width:1130px"></div>
<div class="pm" style="left:245.7px;top:742.2px"></div>
<svg style="left:245.7px;top:742.2px" width="16" height="16" viewBox="0 0 16 16" fill="none" stroke="#8a8a8a" stroke-width="1.8"><path d="M4.4 8H11.6M8 4.4V11.6"/></svg>
<div class="cb" style="left:274px;top:743px"></div>
<div class="lab" style="left:299px;top:742.5px">Нижегородская область</div>
<div class="num" style="left:771px;width:120px;top:739.5px">0,74<i class="ps"></i>%</div>
<div class="bar" style="left:808px;top:760px;width:83px"><i style="width:1px"></i></div>
<div class="num" style="left:899px;width:120px;top:739.5px">1<i class="sp"></i>342</div>
<div class="bar" style="left:915px;top:760px;width:104px"><i style="width:1px"></i></div>
<div class="num" style="left:999px;width:120px;top:739.5px">11,3<i class="ps"></i>%</div>
<div class="bar" style="left:1043px;top:760px;width:76px"><i style="width:14px"></i></div>
<div class="num" style="left:1104px;width:120px;top:739.5px">1,12</div>
<div class="bar" style="left:1143px;top:760px;width:81px"><i style="width:42px"></i></div>
<div class="num" style="left:1198px;width:120px;top:739.5px">0:54</div>
<div class="bar" style="left:1248px;top:760px;width:70px"><i style="width:31px"></i></div>
<div class="hl" style="left:200px;top:809px;width:1130px"></div>
<div class="pm" style="left:245.7px;top:782.2px"></div>
<svg style="left:245.7px;top:782.2px" width="16" height="16" viewBox="0 0 16 16" fill="none" stroke="#8a8a8a" stroke-width="1.8"><path d="M4.4 8H11.6M8 4.4V11.6"/></svg>
<div class="cb" style="left:274px;top:783px"></div>
<div class="lab" style="left:299px;top:782.5px">Свердловская область</div>
<div class="num" style="left:771px;width:120px;top:779.5px">0,73<i class="ps"></i>%</div>
<div class="bar" style="left:808px;top:800px;width:83px"><i style="width:1px"></i></div>
<div class="num" style="left:899px;width:120px;top:779.5px">1<i class="sp"></i>309</div>
<div class="bar" style="left:915px;top:800px;width:104px"><i style="width:1px"></i></div>
<div class="num" style="left:999px;width:120px;top:779.5px">11,1<i class="ps"></i>%</div>
<div class="bar" style="left:1043px;top:800px;width:76px"><i style="width:14px"></i></div>
<div class="num" style="left:1104px;width:120px;top:779.5px">1,25</div>
<div class="bar" style="left:1143px;top:800px;width:81px"><i style="width:47px"></i></div>
<div class="num" style="left:1198px;width:120px;top:779.5px">0:49</div>
<div class="bar" style="left:1248px;top:800px;width:70px"><i style="width:28px"></i></div>
<div class="hl" style="left:200px;top:849px;width:1130px"></div>
<div class="pm" style="left:245.7px;top:822.2px"></div>
<svg style="left:245.7px;top:822.2px" width="16" height="16" viewBox="0 0 16 16" fill="none" stroke="#8a8a8a" stroke-width="1.8"><path d="M4.4 8H11.6M8 4.4V11.6"/></svg>
<div class="cb" style="left:274px;top:823px"></div>
<div class="lab" style="left:299px;top:822.5px">Ростовская область</div>
<div class="num" style="left:771px;width:120px;top:819.5px">0,62<i class="ps"></i>%</div>
<div class="bar" style="left:808px;top:840px;width:83px"><i style="width:1px"></i></div>
<div class="num" style="left:899px;width:120px;top:819.5px">1<i class="sp"></i>180</div>
<div class="bar" style="left:915px;top:840px;width:104px"><i style="width:1px"></i></div>
<div class="num" style="left:999px;width:120px;top:819.5px">8,92<i class="ps"></i>%</div>
<div class="bar" style="left:1043px;top:840px;width:76px"><i style="width:11px"></i></div>
<div class="num" style="left:1104px;width:120px;top:819.5px">1,77</div>
<div class="bar" style="left:1143px;top:840px;width:81px"><i style="width:66px"></i></div>
<div class="num" style="left:1198px;width:120px;top:819.5px">1:05</div>
<div class="bar" style="left:1248px;top:840px;width:70px"><i style="width:37px"></i></div>
<div class="hl" style="left:200px;top:889px;width:1130px"></div>
<div class="pm" style="left:245.7px;top:862.2px"></div>
<svg style="left:245.7px;top:862.2px" width="16" height="16" viewBox="0 0 16 16" fill="none" stroke="#8a8a8a" stroke-width="1.8"><path d="M4.4 8H11.6M8 4.4V11.6"/></svg>
<div class="cb" style="left:274px;top:863px"></div>
<div class="lab" style="left:299px;top:862.5px">Самарская область</div>
<div class="num" style="left:771px;width:120px;top:859.5px">0,53<i class="ps"></i>%</div>
<div class="bar" style="left:808px;top:880px;width:83px"><i style="width:1px"></i></div>
<div class="num" style="left:899px;width:120px;top:859.5px">969</div>
<div class="bar" style="left:915px;top:880px;width:104px"><i style="width:1px"></i></div>
<div class="num" style="left:999px;width:120px;top:859.5px">12<i class="ps"></i>%</div>
<div class="bar" style="left:1043px;top:880px;width:76px"><i style="width:15px"></i></div>
<div class="num" style="left:1104px;width:120px;top:859.5px">1,29</div>
<div class="bar" style="left:1143px;top:880px;width:81px"><i style="width:48px"></i></div>
<div class="num" style="left:1198px;width:120px;top:859.5px">0:47</div>
<div class="bar" style="left:1248px;top:880px;width:70px"><i style="width:27px"></i></div>
<div class="hl" style="left:200px;top:929px;width:1130px"></div>
<div class="pm" style="left:245.7px;top:902.2px"></div>
<svg style="left:245.7px;top:902.2px" width="16" height="16" viewBox="0 0 16 16" fill="none" stroke="#8a8a8a" stroke-width="1.8"><path d="M4.4 8H11.6M8 4.4V11.6"/></svg>
<div class="cb" style="left:274px;top:903px"></div>
<div class="lab" style="left:299px;top:902.5px">Новосибирская область</div>
<div class="num" style="left:771px;width:120px;top:899.5px">0,53<i class="ps"></i>%</div>
<div class="bar" style="left:808px;top:920px;width:83px"><i style="width:1px"></i></div>
<div class="num" style="left:899px;width:120px;top:899.5px">946</div>
<div class="bar" style="left:915px;top:920px;width:104px"><i style="width:1px"></i></div>
<div class="num" style="left:999px;width:120px;top:899.5px">11,5<i class="ps"></i>%</div>
<div class="bar" style="left:1043px;top:920px;width:76px"><i style="width:15px"></i></div>
<div class="num" style="left:1104px;width:120px;top:899.5px">1,13</div>
<div class="bar" style="left:1143px;top:920px;width:81px"><i style="width:42px"></i></div>
<div class="num" style="left:1198px;width:120px;top:899.5px">0:47</div>
<div class="bar" style="left:1248px;top:920px;width:70px"><i style="width:27px"></i></div>
</div>
<div class="sec" style="top:915px;height:563px"><div class="a" style="left:0;top:-915px;width:1366px;height:2032px">
<svg style="left:35px;top:931px" width="32" height="32" viewBox="0 0 32 32"><defs><clipPath id="lc51_947"><circle cx="16" cy="16" r="16"/></clipPath></defs><g clip-path="url(#lc51_947)"><rect width="32" height="32" fill="#3e5fe6"/><rect x="0" y="20" width="10" height="12" fill="#f5213f"/><rect x="10" y="10" width="12" height="22" fill="#1a9dfd"/><rect x="22" y="0" width="10" height="32" fill="#ffd91a"/></g></svg>
<div class="t" style="left:70.5px;top:930.08px;font-size:30.5px;color:#1d1f2b;font-weight:700;letter-spacing:-1.35px;">Метрика</div>
<div class="navbg" style="left:29px;top:1054px;width:176px;height:34px"></div>
<svg style="left:41px;top:991px" width="16" height="16" viewBox="0 0 16 16" fill="none" stroke="#6b7189" stroke-width="1.9" stroke-linejoin="round" stroke-linecap="round"><rect x="2" y="2" width="12" height="12" rx="0.8"/><path d="M8 2V14M2 8H14" stroke-linecap="butt"/></svg>
<div class="nav" style="left:69px;top:990px">Обзор</div>
<svg style="left:41px;top:1027px" width="16" height="16" viewBox="0 0 16 16" fill="none" stroke="#6b7189" stroke-width="1.9" stroke-linejoin="round" stroke-linecap="round"><rect x="4.3" y="1.2" width="7.4" height="13.6" rx="1.4"/><path d="M0.8 4V12M15.2 4V12" stroke-width="1.6"/></svg>
<div class="nav" style="left:69px;top:1026px">Дашборды</div>
<svg style="left:41px;top:1063px" width="16" height="16" viewBox="0 0 16 16" fill="none" stroke="#20222d" stroke-width="1.9" stroke-linejoin="round" stroke-linecap="round"><path d="M2.2 13.8V9.2Q2.2 8.2 3.2 8.2H5.9M5.9 13.8V3.2Q5.9 2.2 6.9 2.2H9.1Q10.1 2.2 10.1 3.2V13.8M10.1 6.6H12.8Q13.8 6.6 13.8 7.6V13.8M2.2 13.8H13.8" stroke-width="2.1"/></svg>
<div class="nav on" style="left:69px;top:1062px">Отчеты</div>
<svg style="left:41px;top:1099px" width="16" height="16" viewBox="0 0 16 16" fill="none" stroke="#6b7189" stroke-width="1.9" stroke-linejoin="round" stroke-linecap="round"><path d="M4 2.2L14 8L4 13.8Z" stroke-width="1.8" stroke-linejoin="miter"/></svg>
<div class="nav" style="left:69px;top:1098px">Поведение</div>
<svg style="left:41px;top:1135px" width="16" height="16" viewBox="0 0 16 16" fill="none" stroke="#6b7189" stroke-width="1.9" stroke-linejoin="round" stroke-linecap="round"><circle cx="8" cy="6" r="3.3"/><path d="M1.6 15.2C4.4 12.7 11.6 12.7 14.4 15.2" stroke-width="1.7"/></svg>
<div class="nav" style="left:69px;top:1134px">Посетители</div>
<svg style="left:41px;top:1187px" width="16" height="16" viewBox="0 0 16 16" fill="none" stroke="#6b7189" stroke-width="1.9" stroke-linejoin="round" stroke-linecap="round"><circle cx="8" cy="8" r="6.8"/><circle cx="8" cy="8" r="2.7" stroke-width="1.8"/></svg>
<div class="nav" style="left:69px;top:1186px">Цели</div>
<svg style="left:41px;top:1223px" width="16" height="16" viewBox="0 0 16 16" fill="none" stroke="#6b7189" stroke-width="1.9" stroke-linejoin="round" stroke-linecap="round"><path d="M14 1.8L2 14.2"/><circle cx="3.8" cy="3.9" r="2.1" stroke-width="1.7"/><circle cx="12.2" cy="12.1" r="2.1" stroke-width="1.7"/></svg>
<div class="nav" style="left:69px;top:1222px">Конверсии</div>
<svg style="left:41px;top:1275px" width="16" height="16" viewBox="0 0 16 16" fill="none" stroke="#6b7189" stroke-width="1.9" stroke-linejoin="round" stroke-linecap="round"><rect x="2.8" y="3" width="10.6" height="10.4" rx="1.6" stroke-width="1.7"/><path d="M2.8 4.6H13.4" stroke-width="1.8" stroke-linecap="butt"/><path d="M7.4 7.4H11M5.2 10.4H8.8" stroke-width="1.1" stroke-linecap="butt"/><rect x="4.9" y="6.4" width="2" height="2" fill="#6b7189" stroke="none"/><rect x="9.2" y="9.4" width="2" height="2" fill="#6b7189" stroke="none"/></svg>
<div class="nav" style="left:69px;top:1274px">Вариокуб</div>
<svg style="left:41px;top:1327px" width="16" height="16" viewBox="0 0 16 16" fill="none" stroke="#6b7189" stroke-width="1.9" stroke-linejoin="round" stroke-linecap="round"><path d="M7.4 0.2C8.8 2.4 10.2 3.4 10.8 5.6C11.3 4.9 11.6 4.2 11.6 3.4C13.6 5.2 15 7.4 15 10C15 13.4 12.6 16 9.6 16C10.6 15.2 11 14.2 10.8 13C10.6 11.4 9 10.6 8.2 8.8C7.2 10.2 5.6 11.2 5.4 13C5.3 14.2 5.8 15.2 6.8 16C3.6 15.8 1 13.4 1 10C1 7.6 2.4 6 3.6 4.8C3.8 5.8 4.2 6.6 5 7.2C5 4.6 5.8 2 7.4 0.2Z" fill="#6b7189" stroke="none"/></svg>
<div class="nav" style="left:69px;top:1326px">Привлечение</div>
<svg style="left:41px;top:1363px" width="16" height="16" viewBox="0 0 16 16" fill="none" stroke="#6b7189" stroke-width="1.9" stroke-linejoin="round" stroke-linecap="round"><path d="M1.8 5.2H4.5C3.2 1.6 9.8 1.6 8.5 5.2H11.2V7.9C14.9 6.6 14.9 13.2 11.2 11.9V14.6H8.4C9 12.3 4.8 12.3 5.4 14.6H1.8Z" stroke-width="1.9"/></svg>
<div class="nav" style="left:69px;top:1362px">Интеграции</div>
<svg style="left:41px;top:1399px" width="16" height="16" viewBox="0 0 16 16" fill="none" stroke="#6b7189" stroke-width="1.9" stroke-linejoin="round" stroke-linecap="round"><g transform="translate(8 8)"><circle r="4.2" stroke-width="2"/><rect x="-1.5" y="-8" width="3" height="3.6" transform="rotate(0)" fill="#6b7189" stroke="none"/><rect x="-1.5" y="-8" width="3" height="3.6" transform="rotate(45)" fill="#6b7189" stroke="none"/><rect x="-1.5" y="-8" width="3" height="3.6" transform="rotate(90)" fill="#6b7189" stroke="none"/><rect x="-1.5" y="-8" width="3" height="3.6" transform="rotate(135)" fill="#6b7189" stroke="none"/><rect x="-1.5" y="-8" width="3" height="3.6" transform="rotate(180)" fill="#6b7189" stroke="none"/><rect x="-1.5" y="-8" width="3" height="3.6" transform="rotate(225)" fill="#6b7189" stroke="none"/><rect x="-1.5" y="-8" width="3" height="3.6" transform="rotate(270)" fill="#6b7189" stroke="none"/><rect x="-1.5" y="-8" width="3" height="3.6" transform="rotate(315)" fill="#6b7189" stroke="none"/></g></svg>
<div class="nav" style="left:69px;top:1398px">Настройки</div>
<div class="a" style="left:177px;top:1399px;width:16px;height:16px;border-radius:50%;background:#ddd4fb"></div>
<div class="a" style="left:181px;top:1403px;width:8px;height:8px;border-radius:50%;background:#6b3fe8"></div>
<svg style="left:41px;top:1448px" width="16" height="16" viewBox="0 0 16 16" fill="none" stroke="#6b7189" stroke-width="1.9" stroke-linejoin="round" stroke-linecap="round"><path d="M11.2 4.8L5 8L11.2 11.3Z" fill="#6b7189" stroke="none"/></svg>
<div class="nav" style="left:69px;top:1447px">Свернуть</div>
<div class="card" style="left:217px;top:917px;width:1114px;height:541px;border-radius:15px"></div>
<div class="a" style="left:217px;top:917px;width:1114px;height:541px;border-radius:15px;overflow:hidden"><div class="a" style="left:-217px;top:-917px;width:1366px;height:2032px">
<div class="t" style="left:241.3px;top:937.34px;font-size:25px;color:#000;letter-spacing:-0.45px;">Пол</div>
<div class="a" style="left:295px;top:941.5px;width:14px;height:14px;border-radius:50%;background:#0f9d3f"></div>
<div class="t" style="left:300px;top:942.5px;font-family:'Liberation Serif',serif;font-weight:700;font-style:italic;font-size:12px;color:#fff">i</div>
<div class="t" style="left:314.3px;top:941.7px;font-size:13.5px;color:#0a8a2e;letter-spacing:-0.03px;-webkit-text-stroke:0.45px #0a8a2e;">Как использовать</div>
<div class="t" style="left:609px;width:300px;text-align:right;top:941.5px;font-size:13px;color:#999;letter-spacing:-0.02px">Визиты за отчётный период: 144 391</div>
<div class="btn" style="left:928px;top:934.5px;width:28px"></div>
<div class="btn" style="left:966px;top:934.5px;width:28px"></div>
<div class="btn" style="left:1004px;top:934.5px;width:28px"></div>
<svg style="left:934px;top:941.5px" width="16" height="16" viewBox="0 0 16 16" fill="none" stroke="#000" stroke-width="1.8"><circle cx="8" cy="8" r="6.4"/><path d="M8 3.8V8.4H11.6" stroke-width="1.6"/></svg>
<svg style="left:972px;top:939.5px" width="16" height="20" viewBox="0 0 16 20" fill="none" stroke="#000" stroke-width="2"><path d="M3 9.6V16.8H13V9.6"/><path d="M8 13.4V4" /><path d="M4.2 7L8 2.4L11.8 7Z" fill="#000" stroke="none"/></svg>
<svg style="left:1004px;top:934.5px" width="28" height="28" viewBox="0 0 28 28"><path d="M6.4 10.7Q6.4 10 7.1 10H8.7L10.5 7.3Q11.3 6.7 12 7.4L11.1 10H13.5Q14.3 10 14.2 10.8L13.5 15.1Q13.3 15.8 12.6 15.8H7.1Q6.4 15.8 6.4 15.1Z" fill="#000"/><path d="M21.3 19Q21.3 19.7 20.6 19.7H19.1L17.3 22.5Q16.5 23.1 15.8 22.4L16.7 19.7H14.8Q14 19.7 14.1 18.9L14.6 14.8Q14.8 14.1 15.5 14.1H20.6Q21.3 14.1 21.3 14.8Z" fill="#000"/><circle cx="20.9" cy="7" r="4.6" fill="#cfcdf9"/><circle cx="20.9" cy="7" r="3.1" fill="#5a55e2"/></svg>
<div class="btn dis" style="left:1042px;top:934.5px;width:113px;text-align:left;padding-left:25px">На дашборд</div>
<svg style="left:1050px;top:942.5px" width="12" height="12" viewBox="0 0 12 12" stroke="#777" stroke-width="1.6"><path d="M6 0.5V11.5M0.5 6H11.5"/></svg>
<div class="btn" style="left:1165px;top:934.5px;width:111px;border-radius:3px 0 0 3px">Сохранить как</div>
<div class="btn" style="left:1275px;top:934.5px;width:32px;border-radius:0 3px 3px 0"></div>
<svg style="left:1286px;top:945.4px" width="11" height="6.5" viewBox="0 0 11 6.5" fill="none" stroke="#000" stroke-width="1.2" stroke-linecap="round" stroke-linejoin="round"><path d="M0.7 0.7L5.5 5.5L10.3 0.7"/></svg>
<div class="btn" style="left:241px;top:979.5px;width:76px;border-radius:3px 0 0 3px">Сегодня</div>
<div class="btn" style="left:316px;top:979.5px;width:63px;border-radius:0">Вчера</div>
<div class="btn" style="left:378px;top:979.5px;width:71px;border-radius:0">Неделя</div>
<div class="btn y" style="left:448px;top:979.5px;width:65px;border-radius:0">Месяц</div>
<div class="btn" style="left:512px;top:979.5px;width:75px;border-radius:0">Квартал</div>
<div class="btn" style="left:586px;top:979.5px;width:47px;border-radius:0 3px 3px 0">Год</div>
<div class="btn" style="left:646px;top:979.5px;width:186px;text-align:left;padding-left:37px">25 фев<span style="letter-spacing:-1px"> </span>—<span style="letter-spacing:-2px"> </span>24 мар 2025</div>
<svg style="left:659px;top:987.5px" width="15" height="11" viewBox="0 0 15 11" fill="#000"><rect x="4" y="0" width="3" height="3"/><rect x="8" y="0" width="3" height="3"/><rect x="12" y="0" width="3" height="3"/><rect x="0" y="4" width="3" height="3"/><rect x="4" y="4" width="3" height="3"/><rect x="8" y="4" width="3" height="3"/><rect x="12" y="4" width="3" height="3"/><rect x="0" y="8" width="3" height="3"/><rect x="4" y="8" width="3" height="3"/><rect x="8" y="8" width="3" height="3"/></svg>
<div class="btn" style="left:845px;top:979.5px;width:172px;text-align:left;padding-left:11px">Детализация: по дням</div>
<svg style="left:996px;top:990.4px" width="11" height="6.5" viewBox="0 0 11 6.5" fill="none" stroke="#000" stroke-width="1.2" stroke-linecap="round" stroke-linejoin="round"><path d="M0.7 0.7L5.5 5.5L10.3 0.7"/></svg>
<div class="btn" style="left:1027px;top:979.5px;width:161px;text-align:left;padding-left:12px">Данные: с роботами</div>
<svg style="left:1166px;top:990.4px" width="11" height="6.5" viewBox="0 0 11 6.5" fill="none" stroke="#000" stroke-width="1.2" stroke-linecap="round" stroke-linejoin="round"><path d="M0.7 0.7L5.5 5.5L10.3 0.7"/></svg>
<div class="q" style="left:1195px;top:987.5px">?</div>
<div class="btn" style="left:241px;top:1029.5px;width:101px;text-align:left;padding-left:24px">Сегмент</div>
<svg style="left:247px;top:1036.0px" width="15" height="15" viewBox="0 0 14 14"><path d="M6.2 1.6A5.9 5.9 0 1 0 12.4 7.8H6.2Z" fill="#000"/><path d="M7.6 0.2A5.9 5.9 0 0 1 13.8 6.4H7.6Z" fill="#000"/></svg>
<svg style="left:321px;top:1040.4px" width="11" height="6.5" viewBox="0 0 11 6.5" fill="none" stroke="#000" stroke-width="1.2" stroke-linecap="round" stroke-linejoin="round"><path d="M0.7 0.7L5.5 5.5L10.3 0.7"/></svg>
<div class="btn" style="left:352px;top:1029.5px;width:168px;text-align:left;padding-left:24px">Сравнить сегменты</div>
<svg style="left:357.2px;top:1036.7px" width="17" height="14" viewBox="0 0 17 14"><path d="M3.65 2.6C5 5.2 7.3 7.2 7.3 10A3.65 3.65 0 0 1 0 10C0 7.2 2.3 5.2 3.65 2.6Z" fill="#000"/><path d="M3.65 6.6C4.3 7.9 5.3 8.9 5.3 10.1A1.65 1.65 0 0 1 2 10.1C2 8.9 3 7.9 3.65 6.6Z" fill="#fff"/><g transform="translate(9.1 0)"><path d="M3.65 2.6C5 5.2 7.3 7.2 7.3 10A3.65 3.65 0 0 1 0 10C0 7.2 2.3 5.2 3.65 2.6Z" fill="#000"/><path d="M3.65 6.6C4.3 7.9 5.3 8.9 5.3 10.1A1.65 1.65 0 0 1 2 10.1C2 8.9 3 7.9 3.65 6.6Z" fill="#fff"/></g><circle cx="8.2" cy="2.1" r="1.9" fill="#000"/></svg>
<svg style="left:499px;top:1040.4px" width="11" height="6.5" viewBox="0 0 11 6.5" fill="none" stroke="#000" stroke-width="1.2" stroke-linecap="round" stroke-linejoin="round"><path d="M0.7 0.7L5.5 5.5L10.3 0.7"/></svg>
<div class="btn dis" style="left:530px;top:1029.5px;width:132px;text-align:left;padding-left:12px">Выборка: 100%</div>
<svg style="left:641px;top:1040.4px" width="11" height="6.5" viewBox="0 0 11 6.5" fill="none" stroke="#999" stroke-width="1.2" stroke-linecap="round" stroke-linejoin="round"><path d="M0.7 0.7L5.5 5.5L10.3 0.7"/></svg>
<div class="t" style="left:241px;top:1092.5px;font-size:13px;color:#999;letter-spacing:-0.05px;">Визиты, в которых</div>
<div class="a" style="left:361px;top:1086.0px;width:28px;height:28px;border-radius:50%;border:1px solid #cfcfcf;background:#fff"></div>
<svg style="left:369.5px;top:1094.5px" width="11" height="11" viewBox="0 0 11 11" stroke="#000" stroke-width="1.9"><path d="M5.5 0V11M0 5.5H11"/></svg>
<div class="t" style="left:397px;top:1092.5px;font-size:13px;color:#999;letter-spacing:-0.15px;">для людей, у которых</div>
<div class="a" style="left:536px;top:1086.0px;width:28px;height:28px;border-radius:50%;border:1px solid #cfcfcf;background:#fff"></div>
<svg style="left:544.5px;top:1094.5px" width="11" height="11" viewBox="0 0 11 11" stroke="#000" stroke-width="1.9"><path d="M5.5 0V11M0 5.5H11"/></svg>
<div class="a" style="left:266px;top:1155.5px;width:906px;height:1px;background:#cdcdcd"></div>
<div class="a" style="left:241px;top:1142.5px;width:26px;height:26px;border-radius:50%;background:#cbcbcb"></div>
<svg style="left:245.8px;top:1148.5px" width="16" height="13" viewBox="0 0 16 13" fill="#fbfbfb"><rect x="0" y="7.9" width="3.2" height="5.1"/><rect x="4.1" y="4" width="3.2" height="9"/><rect x="8.2" y="5" width="3.2" height="8"/><rect x="12.2" y="0" width="3.2" height="13"/></svg>
<div class="pill" style="left:1171px;top:1141.5px;width:140px;text-align:left;padding-left:12px">Показать график</div>
<svg style="left:1291px;top:1152.5px" width="10" height="6.0" viewBox="0 0 10 6.0" fill="none" stroke="#000" stroke-width="1.2" stroke-linecap="round" stroke-linejoin="round"><path d="M0.7 0.7L5.0 5.0L9.3 0.7"/></svg>
<div class="band" style="left:217px;top:1205.0px;width:1131px;height:45px"></div>
<div class="btn" style="left:237px;top:1215.0px;width:102px">Группировки</div>
<div class="btn" style="left:809px;top:1215.0px;width:77px">Метрики</div>
<div class="btn" style="left:896px;top:1215.0px;width:130px;text-align:left;padding-left:12px">Выберите цель</div>
<svg style="left:1005px;top:1226.0px" width="10" height="6.0" viewBox="0 0 10 6.0" fill="none" stroke="#000" stroke-width="1.25" stroke-linecap="round" stroke-linejoin="round"><path d="M0.7 0.7L5.0 5.0L9.3 0.7"/></svg>
<div class="pill" style="left:1126px;top:1215.0px;width:157px;background:transparent;border-color:#c4c4c4">Нет избранных целей</div>
<svg style="left:1297px;top:1221.5px" width="16" height="16" viewBox="-8 -8 16 16" fill="#bbbbbb"><circle r="5.7"/><rect x="-1.9" y="-7.8" width="3.8" height="4.4" rx="0.9" transform="rotate(0)"/><rect x="-1.9" y="-7.8" width="3.8" height="4.4" rx="0.9" transform="rotate(45)"/><rect x="-1.9" y="-7.8" width="3.8" height="4.4" rx="0.9" transform="rotate(90)"/><rect x="-1.9" y="-7.8" width="3.8" height="4.4" rx="0.9" transform="rotate(135)"/><rect x="-1.9" y="-7.8" width="3.8" height="4.4" rx="0.9" transform="rotate(180)"/><rect x="-1.9" y="-7.8" width="3.8" height="4.4" rx="0.9" transform="rotate(225)"/><rect x="-1.9" y="-7.8" width="3.8" height="4.4" rx="0.9" transform="rotate(270)"/><rect x="-1.9" y="-7.8" width="3.8" height="4.4" rx="0.9" transform="rotate(315)"/><circle r="2.5" fill="#f7f6f4"/></svg>
<div class="cb on" style="left:238px;top:1261.0px"></div>
<svg style="left:238px;top:1256.0px" width="18" height="19" viewBox="0 0 18 19" fill="none" stroke="#000" stroke-width="1.8" stroke-linecap="butt" stroke-linejoin="miter"><path d="M3.2 9.8L7.3 14.4L15.7 1.4"/></svg>
<div class="hd" style="left:264.5px;top:1260.5px;letter-spacing:-0.4px">Пол</div>
<div class="q" style="left:816.5px;top:1264.0px">?</div>
<div class="hd" style="left:832px;top:1260.5px;letter-spacing:-0.42px">Визиты</div>
<svg style="left:888.2px;top:1266.6px" width="6.2" height="6.4" viewBox="0 0 6.2 6.4"><path d="M0 0H6.2L3.1 6.4Z" fill="#000"/></svg>
<div class="mb" style="left:809.0px;top:1302.0px;width:23.5px;height:23.5px"></div>
<svg style="left:813.7px;top:1307.0px" width="14.5" height="14.5" viewBox="0 0 14 14"><path d="M6.2 1.6A5.9 5.9 0 1 0 12.4 7.8H6.2Z" fill="#999"/><path d="M7.6 0.4A5.9 5.9 0 0 1 13.6 6.4H7.6Z" fill="#999"/></svg>
<div class="mb on" style="left:838.0px;top:1302.0px;width:23.5px;height:23.5px"></div>
<svg style="left:843.8000000000001px;top:1307.7px" width="12.2" height="12.2" viewBox="0 0 13 13" fill="none" stroke="#000" stroke-width="1.8"><path d="M11.6 1L1.4 12" stroke-linecap="butt"/><circle cx="3" cy="3.2" r="2"/><circle cx="10" cy="9.8" r="2"/></svg>
<div class="mb on" style="left:867.0px;top:1302.0px;width:25.5px;height:23.5px"></div>
<svg style="left:872.6px;top:1309.0px" width="14.2" height="10.2" viewBox="0 0 14.5 10.4" fill="#000"><rect x="0" y="6.4" width="2.2" height="4"/><rect x="4.1" y="3" width="2.2" height="7.4"/><rect x="8.2" y="4.8" width="2.2" height="5.6"/><rect x="12.3" y="0" width="2.2" height="10.4"/></svg>
<div class="q" style="left:916.5px;top:1264.0px">?</div>
<div class="hd" style="left:932px;top:1260.5px;letter-spacing:-0.05px">Посетители</div>
<div class="mb" style="left:937.0px;top:1302.0px;width:23.5px;height:23.5px"></div>
<svg style="left:941.7px;top:1307.0px" width="14.5" height="14.5" viewBox="0 0 14 14"><path d="M6.2 1.6A5.9 5.9 0 1 0 12.4 7.8H6.2Z" fill="#999"/><path d="M7.6 0.4A5.9 5.9 0 0 1 13.6 6.4H7.6Z" fill="#999"/></svg>
<div class="mb" style="left:966.0px;top:1302.0px;width:23.5px;height:23.5px"></div>
<svg style="left:971.8000000000001px;top:1307.7px" width="12.2" height="12.2" viewBox="0 0 13 13" fill="none" stroke="#a6a6a6" stroke-width="1.2"><path d="M11.6 1L1.4 12" stroke-linecap="butt"/><circle cx="3" cy="3.2" r="2"/><circle cx="10" cy="9.8" r="2"/></svg>
<div class="mb" style="left:995.0px;top:1302.0px;width:25.5px;height:23.5px"></div>
<svg style="left:1000.6px;top:1309.0px" width="14.2" height="10.2" viewBox="0 0 14.5 10.4" fill="#a9a9a9"><rect x="0" y="6.4" width="2.2" height="4"/><rect x="4.1" y="3" width="2.2" height="7.4"/><rect x="8.2" y="4.8" width="2.2" height="5.6"/><rect x="12.3" y="0" width="2.2" height="10.4"/></svg>
<div class="q" style="left:1045.5px;top:1264.0px">?</div>
<div class="hd" style="left:1061px;top:1260.5px;letter-spacing:-0.24px">Отказы</div>
<div class="mb" style="left:1066.0px;top:1302.0px;width:23.5px;height:23.5px"></div>
<svg style="left:1070.7px;top:1307.0px" width="14.5" height="14.5" viewBox="0 0 14 14"><path d="M6.2 1.6A5.9 5.9 0 1 0 12.4 7.8H6.2Z" fill="#999"/><path d="M7.6 0.4A5.9 5.9 0 0 1 13.6 6.4H7.6Z" fill="#999"/></svg>
<div class="mb" style="left:1095.0px;top:1302.0px;width:25.5px;height:23.5px"></div>
<svg style="left:1100.6px;top:1309.0px" width="14.2" height="10.2" viewBox="0 0 14.5 10.4" fill="#a9a9a9"><rect x="0" y="6.4" width="2.2" height="4"/><rect x="4.1" y="3" width="2.2" height="7.4"/><rect x="8.2" y="4.8" width="2.2" height="5.6"/><rect x="12.3" y="0" width="2.2" height="10.4"/></svg>
<div class="q" style="left:1145.5px;top:1264.0px">?</div>
<div class="hd" style="left:1161px;top:1260.5px;letter-spacing:-0.21px">Глубина</div>
<div class="hd" style="left:1143px;top:1277.5px;letter-spacing:-0.02px">просмотра</div>
<div class="mb" style="left:1171.0px;top:1302.0px;width:23.5px;height:23.5px"></div>
<svg style="left:1175.7px;top:1307.0px" width="14.5" height="14.5" viewBox="0 0 14 14"><path d="M6.2 1.6A5.9 5.9 0 1 0 12.4 7.8H6.2Z" fill="#999"/><path d="M7.6 0.4A5.9 5.9 0 0 1 13.6 6.4H7.6Z" fill="#999"/></svg>
<div class="mb" style="left:1200.0px;top:1302.0px;width:25.5px;height:23.5px"></div>
<svg style="left:1205.6px;top:1309.0px" width="14.2" height="10.2" viewBox="0 0 14.5 10.4" fill="#a9a9a9"><rect x="0" y="6.4" width="2.2" height="4"/><rect x="4.1" y="3" width="2.2" height="7.4"/><rect x="8.2" y="4.8" width="2.2" height="5.6"/><rect x="12.3" y="0" width="2.2" height="10.4"/></svg>
<div class="q" style="left:1251px;top:1264.0px">?</div>
<div class="hd" style="left:1266px;top:1260.5px;letter-spacing:-0.14px">Время</div>
<div class="hd" style="left:1253px;top:1277.5px;letter-spacing:-0.25px">на сайте</div>
<div class="mb" style="left:1265.0px;top:1302.0px;width:23.5px;height:23.5px"></div>
<svg style="left:1269.7px;top:1307.0px" width="14.5" height="14.5" viewBox="0 0 14 14"><path d="M6.2 1.6A5.9 5.9 0 1 0 12.4 7.8H6.2Z" fill="#999"/><path d="M7.6 0.4A5.9 5.9 0 0 1 13.6 6.4H7.6Z" fill="#999"/></svg>
<div class="mb" style="left:1294.0px;top:1302.0px;width:25.5px;height:23.5px"></div>
<svg style="left:1299.6px;top:1309.0px" width="14.2" height="10.2" viewBox="0 0 14.5 10.4" fill="#a9a9a9"><rect x="0" y="6.4" width="2.2" height="4"/><rect x="4.1" y="3" width="2.2" height="7.4"/><rect x="8.2" y="4.8" width="2.2" height="5.6"/><rect x="12.3" y="0" width="2.2" height="10.4"/></svg>
<div class="band" style="left:217px;top:1334px;width:1114px;height:39px"></div>
<div class="cb" style="left:237px;top:1347px"></div>
<div class="lab" style="left:262px;top:1347px">Итого и средние</div>
<div class="vl" style="left:796px;top:1205px;height:248px"></div>
<div class="num" style="left:772px;width:120px;top:1345.5px">144<i class="sp"></i>391</div>
<div class="num" style="left:900px;width:120px;top:1345.5px">137<i class="sp"></i>517</div>
<div class="num" style="left:1000px;width:120px;top:1345.5px">62,6<i class="ps"></i>%</div>
<div class="num" style="left:1105px;width:120px;top:1345.5px">1,1</div>
<div class="num" style="left:1199px;width:120px;top:1345.5px">0:19</div>
<div class="hl" style="left:217px;top:1373px;width:1114px"></div>
<div class="a" style="left:217px;top:1373.5px;width:6px;height:39.5px;background:#99cc5f"></div>
<div class="cb on" style="left:237px;top:1386.5px"></div>
<svg style="left:237px;top:1381.5px" width="18" height="19" viewBox="0 0 18 19" fill="none" stroke="#000" stroke-width="1.8" stroke-linecap="butt" stroke-linejoin="miter"><path d="M3.2 9.8L7.3 14.4L15.7 1.4"/></svg>
<div class="lab" style="left:262px;top:1387px">мужской</div>
<div class="num" style="left:772px;width:120px;top:1383.5px">76<i class="ps"></i>%</div>
<div class="bar" style="left:809px;top:1404px;width:83px"><i style="width:83px"></i></div>
<div class="num" style="left:900px;width:120px;top:1383.5px">103<i class="sp"></i>671</div>
<div class="bar" style="left:916px;top:1404px;width:104px"><i style="width:104px"></i></div>
<div class="num" style="left:1000px;width:120px;top:1383.5px">59,1<i class="ps"></i>%</div>
<div class="bar" style="left:1044px;top:1404px;width:76px"><i style="width:61px"></i></div>
<div class="num" style="left:1105px;width:120px;top:1383.5px">1,1</div>
<div class="bar" style="left:1144px;top:1404px;width:81px"><i style="width:81px"></i></div>
<div class="num" style="left:1199px;width:120px;top:1383.5px">0:21</div>
<div class="bar" style="left:1249px;top:1404px;width:70px"><i style="width:70px"></i></div>
<div class="hl" style="left:217px;top:1413px;width:1114px"></div>
<div class="a" style="left:217px;top:1413.5px;width:6px;height:45px;background:#ffd963"></div>
<div class="cb on" style="left:237px;top:1426.5px"></div>
<svg style="left:237px;top:1421.5px" width="18" height="19" viewBox="0 0 18 19" fill="none" stroke="#000" stroke-width="1.8" stroke-linecap="butt" stroke-linejoin="miter"><path d="M3.2 9.8L7.3 14.4L15.7 1.4"/></svg>
<div class="lab" style="left:262px;top:1427px">женский</div>
<div class="num" style="left:772px;width:120px;top:1423.5px">24<i class="ps"></i>%</div>
<div class="bar" style="left:809px;top:1444px;width:83px"><i style="width:26px"></i></div>
<div class="num" style="left:900px;width:120px;top:1423.5px">33<i class="sp"></i>909</div>
<div class="bar" style="left:916px;top:1444px;width:104px"><i style="width:34px"></i></div>
<div class="num" style="left:1000px;width:120px;top:1423.5px">73,5<i class="ps"></i>%</div>
<div class="bar" style="left:1044px;top:1444px;width:76px"><i style="width:76px"></i></div>
<div class="num" style="left:1105px;width:120px;top:1423.5px">1,1</div>
<div class="bar" style="left:1144px;top:1444px;width:81px"><i style="width:81px"></i></div>
<div class="num" style="left:1199px;width:120px;top:1423.5px">0:14</div>
<div class="bar" style="left:1249px;top:1444px;width:70px"><i style="width:47px"></i></div>
</div></div>
</div></div>
<div class="sec" style="top:1478px;height:554px"><div class="a" style="left:0;top:-1478px;width:1366px;height:2032px">
<svg style="left:35px;top:1493px" width="32" height="32" viewBox="0 0 32 32"><defs><clipPath id="lc51_1509"><circle cx="16" cy="16" r="16"/></clipPath></defs><g clip-path="url(#lc51_1509)"><rect width="32" height="32" fill="#3e5fe6"/><rect x="0" y="20" width="10" height="12" fill="#f5213f"/><rect x="10" y="10" width="12" height="22" fill="#1a9dfd"/><rect x="22" y="0" width="10" height="32" fill="#ffd91a"/></g></svg>
<div class="t" style="left:70.5px;top:1492.08px;font-size:30.5px;color:#1d1f2b;font-weight:700;letter-spacing:-1.35px;">Метрика</div>
<div class="navbg" style="left:29px;top:1616px;width:176px;height:34px"></div>
<svg style="left:41px;top:1553px" width="16" height="16" viewBox="0 0 16 16" fill="none" stroke="#6b7189" stroke-width="1.9" stroke-linejoin="round" stroke-linecap="round"><rect x="2" y="2" width="12" height="12" rx="0.8"/><path d="M8 2V14M2 8H14" stroke-linecap="butt"/></svg>
<div class="nav" style="left:69px;top:1552px">Обзор</div>
<svg style="left:41px;top:1589px" width="16" height="16" viewBox="0 0 16 16" fill="none" stroke="#6b7189" stroke-width="1.9" stroke-linejoin="round" stroke-linecap="round"><rect x="4.3" y="1.2" width="7.4" height="13.6" rx="1.4"/><path d="M0.8 4V12M15.2 4V12" stroke-width="1.6"/></svg>
<div class="nav" style="left:69px;top:1588px">Дашборды</div>
<svg style="left:41px;top:1625px" width="16" height="16" viewBox="0 0 16 16" fill="none" stroke="#20222d" stroke-width="1.9" stroke-linejoin="round" stroke-linecap="round"><path d="M2.2 13.8V9.2Q2.2 8.2 3.2 8.2H5.9M5.9 13.8V3.2Q5.9 2.2 6.9 2.2H9.1Q10.1 2.2 10.1 3.2V13.8M10.1 6.6H12.8Q13.8 6.6 13.8 7.6V13.8M2.2 13.8H13.8" stroke-width="2.1"/></svg>
<div class="nav on" style="left:69px;top:1624px">Отчеты</div>
<svg style="left:41px;top:1661px" width="16" height="16" viewBox="0 0 16 16" fill="none" stroke="#6b7189" stroke-width="1.9" stroke-linejoin="round" stroke-linecap="round"><path d="M4 2.2L14 8L4 13.8Z" stroke-width="1.8" stroke-linejoin="miter"/></svg>
<div class="nav" style="left:69px;top:1660px">Поведение</div>
<svg style="left:41px;top:1697px" width="16" height="16" viewBox="0 0 16 16" fill="none" stroke="#6b7189" stroke-width="1.9" stroke-linejoin="round" stroke-linecap="round"><circle cx="8" cy="6" r="3.3"/><path d="M1.6 15.2C4.4 12.7 11.6 12.7 14.4 15.2" stroke-width="1.7"/></svg>
<div class="nav" style="left:69px;top:1696px">Посетители</div>
<svg style="left:41px;top:1749px" width="16" height="16" viewBox="0 0 16 16" fill="none" stroke="#6b7189" stroke-width="1.9" stroke-linejoin="round" stroke-linecap="round"><circle cx="8" cy="8" r="6.8"/><circle cx="8" cy="8" r="2.7" stroke-width="1.8"/></svg>
<div class="nav" style="left:69px;top:1748px">Цели</div>
<svg style="left:41px;top:1785px" width="16" height="16" viewBox="0 0 16 16" fill="none" stroke="#6b7189" stroke-width="1.9" stroke-linejoin="round" stroke-linecap="round"><path d="M14 1.8L2 14.2"/><circle cx="3.8" cy="3.9" r="2.1" stroke-width="1.7"/><circle cx="12.2" cy="12.1" r="2.1" stroke-width="1.7"/></svg>
<div class="nav" style="left:69px;top:1784px">Конверсии</div>
<svg style="left:41px;top:1837px" width="16" height="16" viewBox="0 0 16 16" fill="none" stroke="#6b7189" stroke-width="1.9" stroke-linejoin="round" stroke-linecap="round"><rect x="2.8" y="3" width="10.6" height="10.4" rx="1.6" stroke-width="1.7"/><path d="M2.8 4.6H13.4" stroke-width="1.8" stroke-linecap="butt"/><path d="M7.4 7.4H11M5.2 10.4H8.8" stroke-width="1.1" stroke-linecap="butt"/><rect x="4.9" y="6.4" width="2" height="2" fill="#6b7189" stroke="none"/><rect x="9.2" y="9.4" width="2" height="2" fill="#6b7189" stroke="none"/></svg>
<div class="nav" style="left:69px;top:1836px">Вариокуб</div>
<svg style="left:41px;top:1889px" width="16" height="16" viewBox="0 0 16 16" fill="none" stroke="#6b7189" stroke-width="1.9" stroke-linejoin="round" stroke-linecap="round"><path d="M7.4 0.2C8.8 2.4 10.2 3.4 10.8 5.6C11.3 4.9 11.6 4.2 11.6 3.4C13.6 5.2 15 7.4 15 10C15 13.4 12.6 16 9.6 16C10.6 15.2 11 14.2 10.8 13C10.6 11.4 9 10.6 8.2 8.8C7.2 10.2 5.6 11.2 5.4 13C5.3 14.2 5.8 15.2 6.8 16C3.6 15.8 1 13.4 1 10C1 7.6 2.4 6 3.6 4.8C3.8 5.8 4.2 6.6 5 7.2C5 4.6 5.8 2 7.4 0.2Z" fill="#6b7189" stroke="none"/></svg>
<div class="nav" style="left:69px;top:1888px">Привлечение</div>
<svg style="left:41px;top:1925px" width="16" height="16" viewBox="0 0 16 16" fill="none" stroke="#6b7189" stroke-width="1.9" stroke-linejoin="round" stroke-linecap="round"><path d="M1.8 5.2H4.5C3.2 1.6 9.8 1.6 8.5 5.2H11.2V7.9C14.9 6.6 14.9 13.2 11.2 11.9V14.6H8.4C9 12.3 4.8 12.3 5.4 14.6H1.8Z" stroke-width="1.9"/></svg>
<div class="nav" style="left:69px;top:1924px">Интеграции</div>
<svg style="left:41px;top:1961px" width="16" height="16" viewBox="0 0 16 16" fill="none" stroke="#6b7189" stroke-width="1.9" stroke-linejoin="round" stroke-linecap="round"><g transform="translate(8 8)"><circle r="4.2" stroke-width="2"/><rect x="-1.5" y="-8" width="3" height="3.6" transform="rotate(0)" fill="#6b7189" stroke="none"/><rect x="-1.5" y="-8" width="3" height="3.6" transform="rotate(45)" fill="#6b7189" stroke="none"/><rect x="-1.5" y="-8" width="3" height="3.6" transform="rotate(90)" fill="#6b7189" stroke="none"/><rect x="-1.5" y="-8" width="3" height="3.6" transform="rotate(135)" fill="#6b7189" stroke="none"/><rect x="-1.5" y="-8" width="3" height="3.6" transform="rotate(180)" fill="#6b7189" stroke="none"/><rect x="-1.5" y="-8" width="3" height="3.6" transform="rotate(225)" fill="#6b7189" stroke="none"/><rect x="-1.5" y="-8" width="3" height="3.6" transform="rotate(270)" fill="#6b7189" stroke="none"/><rect x="-1.5" y="-8" width="3" height="3.6" transform="rotate(315)" fill="#6b7189" stroke="none"/></g></svg>
<div class="nav" style="left:69px;top:1960px">Настройки</div>
<div class="a" style="left:177px;top:1961px;width:16px;height:16px;border-radius:50%;background:#ddd4fb"></div>
<div class="a" style="left:181px;top:1965px;width:8px;height:8px;border-radius:50%;background:#6b3fe8"></div>
<svg style="left:41px;top:2013px" width="16" height="16" viewBox="0 0 16 16" fill="none" stroke="#6b7189" stroke-width="1.9" stroke-linejoin="round" stroke-linecap="round"><path d="M11.2 4.8L5 8L11.2 11.3Z" fill="#6b7189" stroke="none"/></svg>
<div class="nav" style="left:69px;top:2012px">Свернуть</div>
<div class="a" style="left:217px;top:1478px;width:1114px;height:509px;border-radius:0 0 15px 15px;overflow:hidden;background:#fff"><div class="a" style="left:-217px;top:-1478px;width:1366px;height:2032px">
<div class="a" style="left:361px;top:1455.0px;width:28px;height:28px;border-radius:50%;border:1px solid #cfcfcf;background:#fff"></div>
<svg style="left:369.5px;top:1463.5px" width="11" height="11" viewBox="0 0 11 11" stroke="#000" stroke-width="1.9"><path d="M5.5 0V11M0 5.5H11"/></svg>
<div class="a" style="left:536px;top:1455.0px;width:28px;height:28px;border-radius:50%;border:1px solid #cfcfcf;background:#fff"></div>
<svg style="left:544.5px;top:1463.5px" width="11" height="11" viewBox="0 0 11 11" stroke="#000" stroke-width="1.9"><path d="M5.5 0V11M0 5.5H11"/></svg>
<div class="a" style="left:266px;top:1524.5px;width:906px;height:1px;background:#cdcdcd"></div>
<div class="a" style="left:241px;top:1511.5px;width:26px;height:26px;border-radius:50%;background:#cbcbcb"></div>
<svg style="left:245.8px;top:1517.5px" width="16" height="13" viewBox="0 0 16 13" fill="#fbfbfb"><rect x="0" y="7.9" width="3.2" height="5.1"/><rect x="4.1" y="4" width="3.2" height="9"/><rect x="8.2" y="5" width="3.2" height="8"/><rect x="12.2" y="0" width="3.2" height="13"/></svg>
<div class="pill" style="left:1171px;top:1510.5px;width:140px;text-align:left;padding-left:12px">Показать график</div>
<svg style="left:1291px;top:1521.5px" width="10" height="6.0" viewBox="0 0 10 6.0" fill="none" stroke="#000" stroke-width="1.2" stroke-linecap="round" stroke-linejoin="round"><path d="M0.7 0.7L5.0 5.0L9.3 0.7"/></svg>
<div class="band" style="left:217px;top:1574.0px;width:1131px;height:45px"></div>
<div class="btn" style="left:237px;top:1584.0px;width:102px">Группировки</div>
<div class="btn" style="left:683px;top:1584.0px;width:77px">Метрики</div>
<div class="btn" style="left:770px;top:1584.0px;width:130px;text-align:left;padding-left:12px">Выберите цель</div>
<svg style="left:879px;top:1595.0px" width="10" height="6.0" viewBox="0 0 10 6.0" fill="none" stroke="#000" stroke-width="1.25" stroke-linecap="round" stroke-linejoin="round"><path d="M0.7 0.7L5.0 5.0L9.3 0.7"/></svg>
<div class="pill" style="left:1126px;top:1584.0px;width:157px;background:transparent;border-color:#c4c4c4">Нет избранных целей</div>
<svg style="left:1297px;top:1590.5px" width="16" height="16" viewBox="-8 -8 16 16" fill="#bbbbbb"><circle r="5.7"/><rect x="-1.9" y="-7.8" width="3.8" height="4.4" rx="0.9" transform="rotate(0)"/><rect x="-1.9" y="-7.8" width="3.8" height="4.4" rx="0.9" transform="rotate(45)"/><rect x="-1.9" y="-7.8" width="3.8" height="4.4" rx="0.9" transform="rotate(90)"/><rect x="-1.9" y="-7.8" width="3.8" height="4.4" rx="0.9" transform="rotate(135)"/><rect x="-1.9" y="-7.8" width="3.8" height="4.4" rx="0.9" transform="rotate(180)"/><rect x="-1.9" y="-7.8" width="3.8" height="4.4" rx="0.9" transform="rotate(225)"/><rect x="-1.9" y="-7.8" width="3.8" height="4.4" rx="0.9" transform="rotate(270)"/><rect x="-1.9" y="-7.8" width="3.8" height="4.4" rx="0.9" transform="rotate(315)"/><circle r="2.5" fill="#f7f6f4"/></svg>
<div class="cb on" style="left:238px;top:1630.0px"></div>
<svg style="left:238px;top:1625.0px" width="18" height="19" viewBox="0 0 18 19" fill="none" stroke="#000" stroke-width="1.8" stroke-linecap="butt" stroke-linejoin="miter"><path d="M3.2 9.8L7.3 14.4L15.7 1.4"/></svg>
<div class="hd" style="left:264.5px;top:1629.5px;letter-spacing:-0.38px">Возраст</div>
<svg style="left:324px;top:1635.2px" width="6.8" height="6.6" viewBox="0 0 6.8 6.6"><path d="M3.4 0L6.8 6.6H0Z" fill="#000"/></svg>
<div class="q" style="left:690px;top:1633.0px">?</div>
<div class="hd" style="left:706px;top:1629.5px;letter-spacing:-0.42px">Визиты</div>
<div class="mb" style="left:682.5px;top:1671.0px;width:23.5px;height:23.5px"></div>
<svg style="left:687.2px;top:1676.0px" width="14.5" height="14.5" viewBox="0 0 14 14"><path d="M6.2 1.6A5.9 5.9 0 1 0 12.4 7.8H6.2Z" fill="#999"/><path d="M7.6 0.4A5.9 5.9 0 0 1 13.6 6.4H7.6Z" fill="#999"/></svg>
<div class="mb" style="left:711.5px;top:1671.0px;width:23.5px;height:23.5px"></div>
<svg style="left:717.3000000000001px;top:1676.7px" width="12.2" height="12.2" viewBox="0 0 13 13" fill="none" stroke="#a6a6a6" stroke-width="1.2"><path d="M11.6 1L1.4 12" stroke-linecap="butt"/><circle cx="3" cy="3.2" r="2"/><circle cx="10" cy="9.8" r="2"/></svg>
<div class="mb on" style="left:740.5px;top:1671.0px;width:25.5px;height:23.5px"></div>
<svg style="left:746.1px;top:1678.0px" width="14.2" height="10.2" viewBox="0 0 14.5 10.4" fill="#000"><rect x="0" y="6.4" width="2.2" height="4"/><rect x="4.1" y="3" width="2.2" height="7.4"/><rect x="8.2" y="4.8" width="2.2" height="5.6"/><rect x="12.3" y="0" width="2.2" height="10.4"/></svg>
<div class="q" style="left:790px;top:1633.0px">?</div>
<div class="hd" style="left:806px;top:1629.5px;letter-spacing:-0.05px">Посетители</div>
<div class="mb" style="left:810.5px;top:1671.0px;width:23.5px;height:23.5px"></div>
<svg style="left:815.2px;top:1676.0px" width="14.5" height="14.5" viewBox="0 0 14 14"><path d="M6.2 1.6A5.9 5.9 0 1 0 12.4 7.8H6.2Z" fill="#999"/><path d="M7.6 0.4A5.9 5.9 0 0 1 13.6 6.4H7.6Z" fill="#999"/></svg>
<div class="mb on" style="left:839.5px;top:1671.0px;width:23.5px;height:23.5px"></div>
<svg style="left:845.3000000000001px;top:1676.7px" width="12.2" height="12.2" viewBox="0 0 13 13" fill="none" stroke="#000" stroke-width="1.8"><path d="M11.6 1L1.4 12" stroke-linecap="butt"/><circle cx="3" cy="3.2" r="2"/><circle cx="10" cy="9.8" r="2"/></svg>
<div class="mb" style="left:868.5px;top:1671.0px;width:25.5px;height:23.5px"></div>
<svg style="left:874.1px;top:1678.0px" width="14.2" height="10.2" viewBox="0 0 14.5 10.4" fill="#a9a9a9"><rect x="0" y="6.4" width="2.2" height="4"/><rect x="4.1" y="3" width="2.2" height="7.4"/><rect x="8.2" y="4.8" width="2.2" height="5.6"/><rect x="12.3" y="0" width="2.2" height="10.4"/></svg>
<div class="q" style="left:918.5px;top:1633.0px">?</div>
<div class="hd" style="left:934px;top:1629.5px;letter-spacing:-0.24px">Отказы</div>
<div class="mb" style="left:939.5px;top:1671.0px;width:23.5px;height:23.5px"></div>
<svg style="left:944.2px;top:1676.0px" width="14.5" height="14.5" viewBox="0 0 14 14"><path d="M6.2 1.6A5.9 5.9 0 1 0 12.4 7.8H6.2Z" fill="#999"/><path d="M7.6 0.4A5.9 5.9 0 0 1 13.6 6.4H7.6Z" fill="#999"/></svg>
<div class="mb" style="left:968.5px;top:1671.0px;width:25.5px;height:23.5px"></div>
<svg style="left:974.1px;top:1678.0px" width="14.2" height="10.2" viewBox="0 0 14.5 10.4" fill="#a9a9a9"><rect x="0" y="6.4" width="2.2" height="4"/><rect x="4.1" y="3" width="2.2" height="7.4"/><rect x="8.2" y="4.8" width="2.2" height="5.6"/><rect x="12.3" y="0" width="2.2" height="10.4"/></svg>
<div class="q" style="left:1019px;top:1633.0px">?</div>
<div class="hd" style="left:1034px;top:1629.5px;letter-spacing:-0.21px">Глубина</div>
<div class="hd" style="left:1016.5px;top:1646.5px;letter-spacing:-0.02px">просмотра</div>
<div class="mb" style="left:1044.5px;top:1671.0px;width:23.5px;height:23.5px"></div>
<svg style="left:1049.2px;top:1676.0px" width="14.5" height="14.5" viewBox="0 0 14 14"><path d="M6.2 1.6A5.9 5.9 0 1 0 12.4 7.8H6.2Z" fill="#999"/><path d="M7.6 0.4A5.9 5.9 0 0 1 13.6 6.4H7.6Z" fill="#999"/></svg>
<div class="mb" style="left:1073.5px;top:1671.0px;width:25.5px;height:23.5px"></div>
<svg style="left:1079.1px;top:1678.0px" width="14.2" height="10.2" viewBox="0 0 14.5 10.4" fill="#a9a9a9"><rect x="0" y="6.4" width="2.2" height="4"/><rect x="4.1" y="3" width="2.2" height="7.4"/><rect x="8.2" y="4.8" width="2.2" height="5.6"/><rect x="12.3" y="0" width="2.2" height="10.4"/></svg>
<div class="q" style="left:1124px;top:1633.0px">?</div>
<div class="hd" style="left:1139px;top:1629.5px;letter-spacing:-0.14px">Время</div>
<div class="hd" style="left:1126.5px;top:1646.5px;letter-spacing:-0.25px">на сайте</div>
<div class="mb" style="left:1139.0px;top:1671.0px;width:23.5px;height:23.5px"></div>
<svg style="left:1143.7px;top:1676.0px" width="14.5" height="14.5" viewBox="0 0 14 14"><path d="M6.2 1.6A5.9 5.9 0 1 0 12.4 7.8H6.2Z" fill="#999"/><path d="M7.6 0.4A5.9 5.9 0 0 1 13.6 6.4H7.6Z" fill="#999"/></svg>
<div class="mb" style="left:1168.0px;top:1671.0px;width:25.5px;height:23.5px"></div>
<svg style="left:1173.6px;top:1678.0px" width="14.2" height="10.2" viewBox="0 0 14.5 10.4" fill="#a9a9a9"><rect x="0" y="6.4" width="2.2" height="4"/><rect x="4.1" y="3" width="2.2" height="7.4"/><rect x="8.2" y="4.8" width="2.2" height="5.6"/><rect x="12.3" y="0" width="2.2" height="10.4"/></svg>
<div class="q" style="left:1217.5px;top:1633.0px">?</div>
<div class="hd" style="left:1233px;top:1629.5px;letter-spacing:-0.11px">Просмотры</div>
<div class="mb" style="left:1235.5px;top:1671.0px;width:23.5px;height:23.5px"></div>
<svg style="left:1240.2px;top:1676.0px" width="14.5" height="14.5" viewBox="0 0 14 14"><path d="M6.2 1.6A5.9 5.9 0 1 0 12.4 7.8H6.2Z" fill="#999"/><path d="M7.6 0.4A5.9 5.9 0 0 1 13.6 6.4H7.6Z" fill="#999"/></svg>
<div class="mb" style="left:1264.5px;top:1671.0px;width:23.5px;height:23.5px"></div>
<svg style="left:1270.3px;top:1676.7px" width="12.2" height="12.2" viewBox="0 0 13 13" fill="none" stroke="#a6a6a6" stroke-width="1.2"><path d="M11.6 1L1.4 12" stroke-linecap="butt"/><circle cx="3" cy="3.2" r="2"/><circle cx="10" cy="9.8" r="2"/></svg>
<div class="mb" style="left:1293.5px;top:1671.0px;width:25.5px;height:23.5px"></div>
<svg style="left:1299.1px;top:1678.0px" width="14.2" height="10.2" viewBox="0 0 14.5 10.4" fill="#a9a9a9"><rect x="0" y="6.4" width="2.2" height="4"/><rect x="4.1" y="3" width="2.2" height="7.4"/><rect x="8.2" y="4.8" width="2.2" height="5.6"/><rect x="12.3" y="0" width="2.2" height="10.4"/></svg>
<div class="band" style="left:217px;top:1703px;width:1114px;height:39px"></div>
<div class="cb" style="left:237px;top:1716px"></div>
<div class="lab" style="left:262px;top:1716px">Итого и средние</div>
<div class="vl" style="left:670px;top:1574px;height:408px"></div>
<div class="num" style="left:645.5px;width:120px;top:1714.5px">152<i class="sp"></i>305</div>
<div class="num" style="left:773.5px;width:120px;top:1714.5px">145<i class="sp"></i>484</div>
<div class="num" style="left:873.5px;width:120px;top:1714.5px">64,1<i class="ps"></i>%</div>
<div class="num" style="left:978.5px;width:120px;top:1714.5px">1,09</div>
<div class="num" style="left:1073px;width:120px;top:1714.5px">0:18</div>
<div class="num" style="left:1198.5px;width:120px;top:1714.5px">166<i class="sp"></i>486</div>
<div class="hl" style="left:217px;top:1742px;width:1114px"></div>
<div class="a" style="left:217px;top:1742.5px;width:6px;height:39.5px;background:#99cc5f"></div>
<div class="cb on" style="left:237px;top:1755.5px"></div>
<svg style="left:237px;top:1750.5px" width="18" height="19" viewBox="0 0 18 19" fill="none" stroke="#000" stroke-width="1.8" stroke-linecap="butt" stroke-linejoin="miter"><path d="M3.2 9.8L7.3 14.4L15.7 1.4"/></svg>
<div class="lab" style="left:262px;top:1756px">младше 18 лет</div>
<div class="num" style="left:645.5px;width:120px;top:1752.5px">752</div>
<div class="bar" style="left:683px;top:1773px;width:82.5px"><i style="width:1px"></i></div>
<div class="num" style="left:773.5px;width:120px;top:1752.5px">0,47<i class="ps"></i>%</div>
<div class="bar" style="left:789px;top:1773px;width:104.5px"><i style="width:1px"></i></div>
<div class="num" style="left:873.5px;width:120px;top:1752.5px">26,5<i class="ps"></i>%</div>
<div class="bar" style="left:918px;top:1773px;width:75.5px"><i style="width:28px"></i></div>
<div class="num" style="left:978.5px;width:120px;top:1752.5px">1,13</div>
<div class="bar" style="left:1017px;top:1773px;width:81.5px"><i style="width:78px"></i></div>
<div class="num" style="left:1073px;width:120px;top:1752.5px">0:26</div>
<div class="bar" style="left:1123px;top:1773px;width:70px"><i style="width:36px"></i></div>
<div class="num" style="left:1198.5px;width:120px;top:1752.5px">853</div>
<div class="bar" style="left:1217px;top:1773px;width:101.5px"><i style="width:1px"></i></div>
<div class="hl" style="left:217px;top:1782px;width:1114px"></div>
<div class="a" style="left:217px;top:1782.5px;width:6px;height:39.5px;background:#ffd963"></div>
<div class="cb on" style="left:237px;top:1795.5px"></div>
<svg style="left:237px;top:1790.5px" width="18" height="19" viewBox="0 0 18 19" fill="none" stroke="#000" stroke-width="1.8" stroke-linecap="butt" stroke-linejoin="miter"><path d="M3.2 9.8L7.3 14.4L15.7 1.4"/></svg>
<div class="lab" style="left:262px;top:1796px">18-24 года</div>
<div class="num" style="left:645.5px;width:120px;top:1792.5px">5<i class="sp"></i>681</div>
<div class="bar" style="left:683px;top:1813px;width:82.5px"><i style="width:7px"></i></div>
<div class="num" style="left:773.5px;width:120px;top:1792.5px">3,65<i class="ps"></i>%</div>
<div class="bar" style="left:789px;top:1813px;width:104.5px"><i style="width:9px"></i></div>
<div class="num" style="left:873.5px;width:120px;top:1792.5px">48<i class="ps"></i>%</div>
<div class="bar" style="left:918px;top:1813px;width:75.5px"><i style="width:50px"></i></div>
<div class="num" style="left:978.5px;width:120px;top:1792.5px">1,18</div>
<div class="bar" style="left:1017px;top:1813px;width:81.5px"><i style="width:82px"></i></div>
<div class="num" style="left:1073px;width:120px;top:1792.5px">0:28</div>
<div class="bar" style="left:1123px;top:1813px;width:70px"><i style="width:39px"></i></div>
<div class="num" style="left:1198.5px;width:120px;top:1792.5px">6<i class="sp"></i>727</div>
<div class="bar" style="left:1217px;top:1813px;width:101.5px"><i style="width:10px"></i></div>
<div class="hl" style="left:217px;top:1822px;width:1114px"></div>
<div class="a" style="left:217px;top:1822.5px;width:6px;height:39.5px;background:#f0533b"></div>
<div class="cb on" style="left:237px;top:1835.5px"></div>
<svg style="left:237px;top:1830.5px" width="18" height="19" viewBox="0 0 18 19" fill="none" stroke="#000" stroke-width="1.8" stroke-linecap="butt" stroke-linejoin="miter"><path d="M3.2 9.8L7.3 14.4L15.7 1.4"/></svg>
<div class="lab" style="left:262px;top:1836px">25-34 года</div>
<div class="num" style="left:645.5px;width:120px;top:1832.5px">62<i class="sp"></i>824</div>
<div class="bar" style="left:683px;top:1853px;width:82.5px"><i style="width:82px"></i></div>
<div class="num" style="left:773.5px;width:120px;top:1832.5px">42<i class="ps"></i>%</div>
<div class="bar" style="left:789px;top:1853px;width:104.5px"><i style="width:104px"></i></div>
<div class="num" style="left:873.5px;width:120px;top:1832.5px">72,2<i class="ps"></i>%</div>
<div class="bar" style="left:918px;top:1853px;width:75.5px"><i style="width:76px"></i></div>
<div class="num" style="left:978.5px;width:120px;top:1832.5px">1,08</div>
<div class="bar" style="left:1017px;top:1853px;width:81.5px"><i style="width:75px"></i></div>
<div class="num" style="left:1073px;width:120px;top:1832.5px">0:13</div>
<div class="bar" style="left:1123px;top:1853px;width:70px"><i style="width:18px"></i></div>
<div class="num" style="left:1198.5px;width:120px;top:1832.5px">67<i class="sp"></i>589</div>
<div class="bar" style="left:1217px;top:1853px;width:101.5px"><i style="width:102px"></i></div>
<div class="hl" style="left:217px;top:1862px;width:1114px"></div>
<div class="a" style="left:217px;top:1862.5px;width:6px;height:39.5px;background:#6cb3e6"></div>
<div class="cb on" style="left:237px;top:1875.5px"></div>
<svg style="left:237px;top:1870.5px" width="18" height="19" viewBox="0 0 18 19" fill="none" stroke="#000" stroke-width="1.8" stroke-linecap="butt" stroke-linejoin="miter"><path d="M3.2 9.8L7.3 14.4L15.7 1.4"/></svg>
<div class="lab" style="left:262px;top:1876px">35-44 года</div>
<div class="num" style="left:645.5px;width:120px;top:1872.5px">53<i class="sp"></i>808</div>
<div class="bar" style="left:683px;top:1893px;width:82.5px"><i style="width:71px"></i></div>
<div class="num" style="left:773.5px;width:120px;top:1872.5px">35,6<i class="ps"></i>%</div>
<div class="bar" style="left:789px;top:1893px;width:104.5px"><i style="width:89px"></i></div>
<div class="num" style="left:873.5px;width:120px;top:1872.5px">66<i class="ps"></i>%</div>
<div class="bar" style="left:918px;top:1893px;width:75.5px"><i style="width:69px"></i></div>
<div class="num" style="left:978.5px;width:120px;top:1872.5px">1,09</div>
<div class="bar" style="left:1017px;top:1893px;width:81.5px"><i style="width:75px"></i></div>
<div class="num" style="left:1073px;width:120px;top:1872.5px">0:16</div>
<div class="bar" style="left:1123px;top:1893px;width:70px"><i style="width:22px"></i></div>
<div class="num" style="left:1198.5px;width:120px;top:1872.5px">58<i class="sp"></i>687</div>
<div class="bar" style="left:1217px;top:1893px;width:101.5px"><i style="width:88px"></i></div>
<div class="hl" style="left:217px;top:1902px;width:1114px"></div>
<div class="a" style="left:217px;top:1902.5px;width:6px;height:39.5px;background:#a04db8"></div>
<div class="cb on" style="left:237px;top:1915.5px"></div>
<svg style="left:237px;top:1910.5px" width="18" height="19" viewBox="0 0 18 19" fill="none" stroke="#000" stroke-width="1.8" stroke-linecap="butt" stroke-linejoin="miter"><path d="M3.2 9.8L7.3 14.4L15.7 1.4"/></svg>
<div class="lab" style="left:262px;top:1916px">45-54 года</div>
<div class="num" style="left:645.5px;width:120px;top:1912.5px">21<i class="sp"></i>874</div>
<div class="bar" style="left:683px;top:1933px;width:82.5px"><i style="width:29px"></i></div>
<div class="num" style="left:773.5px;width:120px;top:1912.5px">14,1<i class="ps"></i>%</div>
<div class="bar" style="left:789px;top:1933px;width:104.5px"><i style="width:35px"></i></div>
<div class="num" style="left:873.5px;width:120px;top:1912.5px">55,7<i class="ps"></i>%</div>
<div class="bar" style="left:918px;top:1933px;width:75.5px"><i style="width:58px"></i></div>
<div class="num" style="left:978.5px;width:120px;top:1912.5px">1,11</div>
<div class="bar" style="left:1017px;top:1933px;width:81.5px"><i style="width:77px"></i></div>
<div class="num" style="left:1073px;width:120px;top:1912.5px">0:25</div>
<div class="bar" style="left:1123px;top:1933px;width:70px"><i style="width:35px"></i></div>
<div class="num" style="left:1198.5px;width:120px;top:1912.5px">24<i class="sp"></i>255</div>
<div class="bar" style="left:1217px;top:1933px;width:101.5px"><i style="width:36px"></i></div>
<div class="hl" style="left:217px;top:1942px;width:1114px"></div>
<div class="cb" style="left:237px;top:1955.5px"></div>
<div class="lab" style="left:262px;top:1956px">55 лет и старше</div>
<div class="num" style="left:645.5px;width:120px;top:1952.5px">7<i class="sp"></i>366</div>
<div class="bar" style="left:683px;top:1973px;width:82.5px"><i style="width:10px"></i></div>
<div class="num" style="left:773.5px;width:120px;top:1952.5px">4,45<i class="ps"></i>%</div>
<div class="bar" style="left:789px;top:1973px;width:104.5px"><i style="width:11px"></i></div>
<div class="num" style="left:873.5px;width:120px;top:1952.5px">21,7<i class="ps"></i>%</div>
<div class="bar" style="left:918px;top:1973px;width:75.5px"><i style="width:23px"></i></div>
<div class="num" style="left:978.5px;width:120px;top:1952.5px">1,14</div>
<div class="bar" style="left:1017px;top:1973px;width:81.5px"><i style="width:79px"></i></div>
<div class="num" style="left:1073px;width:120px;top:1952.5px">0:50</div>
<div class="bar" style="left:1123px;top:1973px;width:70px"><i style="width:70px"></i></div>
<div class="num" style="left:1198.5px;width:120px;top:1952.5px">8<i class="sp"></i>375</div>
<div class="bar" style="left:1217px;top:1973px;width:101.5px"><i style="width:13px"></i></div>
</div></div>
<div class="ft" style="left:217px;top:2013px">Пользовательское соглашение</div>
<div class="ft" style="left:435px;top:2013px">Политика конфиденциальности</div>
<div class="ft" style="left:659px;top:2013px">Справка</div>
<div class="ft" style="left:730px;top:2013px">Задать вопрос</div>
<div class="ft" style="left:841px;top:2013px">Предложить идею</div>
<div class="a" style="left:1082px;top:2016px;width:16px;height:11px;border-radius:1px;background:linear-gradient(180deg,#f4f4f4 0,#f4f4f4 33%,#3b56c4 33%,#3b56c4 67%,#e8333c 67%)"></div>
<div class="ft" style="left:1104px;top:2013px">Ru</div>
<div class="ft" style="left:1137px;top:2013px;letter-spacing:-0.17px">© 2008–2025 ООО «ЯНДЕКС»</div>
</div></div>
</body></html>
